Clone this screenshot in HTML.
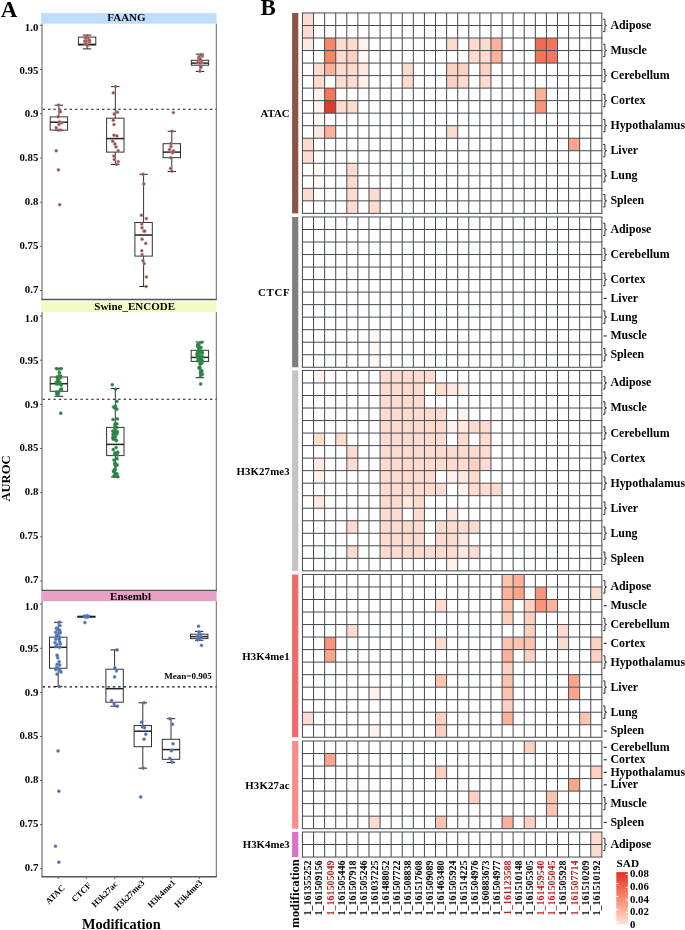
<!DOCTYPE html>
<html><head><meta charset="utf-8"><style>
html,body{margin:0;padding:0;background:#fff;}
svg{display:block;will-change:transform;}
text{font-family:"Liberation Serif",serif;font-weight:bold;}
</style></head><body>
<svg width="685" height="930" viewBox="0 0 685 930">
<rect width="685" height="930" fill="#fff"/>
<text x="0.8" y="16.9" font-family="Liberation Serif" font-weight="bold" font-size="23">A</text>
<rect x="41.2" y="12.9" width="175.4" height="10.8" fill="#bddffb"/>
<text x="107.3" y="20.7" font-family="Liberation Serif" font-weight="bold" font-size="11">FAANG</text>
<line x1="42.0" y1="23.7" x2="42.0" y2="299.6" stroke="#555" stroke-width="1.0"/>
<line x1="216.3" y1="23.7" x2="216.3" y2="299.6" stroke="#666" stroke-width="1.0"/>
<line x1="41.5" y1="299.6" x2="216.8" y2="299.6" stroke="#555" stroke-width="1.5"/>
<line x1="40" y1="25.3" x2="42.0" y2="25.3" stroke="#555" stroke-width="0.9"/>
<text x="38.3" y="30.8" font-family="Liberation Serif" font-weight="bold" font-size="10.8" text-anchor="end">1.0</text>
<line x1="40" y1="69.5" x2="42.0" y2="69.5" stroke="#555" stroke-width="0.9"/>
<text x="38.3" y="73.5" font-family="Liberation Serif" font-weight="bold" font-size="10.8" text-anchor="end">0.95</text>
<line x1="40" y1="113.7" x2="42.0" y2="113.7" stroke="#555" stroke-width="0.9"/>
<text x="38.3" y="116.9" font-family="Liberation Serif" font-weight="bold" font-size="10.8" text-anchor="end">0.9</text>
<line x1="40" y1="157.9" x2="42.0" y2="157.9" stroke="#555" stroke-width="0.9"/>
<text x="38.3" y="160.6" font-family="Liberation Serif" font-weight="bold" font-size="10.8" text-anchor="end">0.85</text>
<line x1="40" y1="202.2" x2="42.0" y2="202.2" stroke="#555" stroke-width="0.9"/>
<text x="38.3" y="204.7" font-family="Liberation Serif" font-weight="bold" font-size="10.8" text-anchor="end">0.8</text>
<line x1="40" y1="246.4" x2="42.0" y2="246.4" stroke="#555" stroke-width="0.9"/>
<text x="38.3" y="248.7" font-family="Liberation Serif" font-weight="bold" font-size="10.8" text-anchor="end">0.75</text>
<line x1="40" y1="290.6" x2="42.0" y2="290.6" stroke="#555" stroke-width="0.9"/>
<text x="38.3" y="292.6" font-family="Liberation Serif" font-weight="bold" font-size="10.8" text-anchor="end">0.7</text>
<line x1="42.6" y1="109.3" x2="216.3" y2="109.3" stroke="#111" stroke-width="1.1" stroke-dasharray="2.4,3.0"/>
<rect x="41.2" y="301.3" width="175.4" height="10.9" fill="#f4fac6"/>
<text x="94.3" y="309.8" font-family="Liberation Serif" font-weight="bold" font-size="11">Swine_ENCODE</text>
<line x1="42.0" y1="312.2" x2="42.0" y2="590.4" stroke="#555" stroke-width="1.0"/>
<line x1="216.3" y1="312.2" x2="216.3" y2="590.4" stroke="#666" stroke-width="1.0"/>
<line x1="41.5" y1="590.4" x2="216.8" y2="590.4" stroke="#555" stroke-width="1.5"/>
<line x1="40" y1="316.0" x2="42.0" y2="316.0" stroke="#555" stroke-width="0.9"/>
<text x="38.3" y="321.5" font-family="Liberation Serif" font-weight="bold" font-size="10.8" text-anchor="end">1.0</text>
<line x1="40" y1="360.2" x2="42.0" y2="360.2" stroke="#555" stroke-width="0.9"/>
<text x="38.3" y="364.2" font-family="Liberation Serif" font-weight="bold" font-size="10.8" text-anchor="end">0.95</text>
<line x1="40" y1="404.3" x2="42.0" y2="404.3" stroke="#555" stroke-width="0.9"/>
<text x="38.3" y="407.5" font-family="Liberation Serif" font-weight="bold" font-size="10.8" text-anchor="end">0.9</text>
<line x1="40" y1="448.5" x2="42.0" y2="448.5" stroke="#555" stroke-width="0.9"/>
<text x="38.3" y="451.2" font-family="Liberation Serif" font-weight="bold" font-size="10.8" text-anchor="end">0.85</text>
<line x1="40" y1="492.7" x2="42.0" y2="492.7" stroke="#555" stroke-width="0.9"/>
<text x="38.3" y="495.2" font-family="Liberation Serif" font-weight="bold" font-size="10.8" text-anchor="end">0.8</text>
<line x1="40" y1="536.8" x2="42.0" y2="536.8" stroke="#555" stroke-width="0.9"/>
<text x="38.3" y="539.1" font-family="Liberation Serif" font-weight="bold" font-size="10.8" text-anchor="end">0.75</text>
<line x1="40" y1="581.0" x2="42.0" y2="581.0" stroke="#555" stroke-width="0.9"/>
<text x="38.3" y="583.0" font-family="Liberation Serif" font-weight="bold" font-size="10.8" text-anchor="end">0.7</text>
<line x1="42.6" y1="399.3" x2="216.3" y2="399.3" stroke="#111" stroke-width="1.1" stroke-dasharray="2.4,3.0"/>
<rect x="41.2" y="591.1" width="175.4" height="10.1" fill="#e6a1c5"/>
<text x="110.1" y="600.4" font-family="Liberation Serif" font-weight="bold" font-size="11">Ensembl</text>
<line x1="42.0" y1="601.2" x2="42.0" y2="876.8" stroke="#555" stroke-width="1.0"/>
<line x1="216.3" y1="601.2" x2="216.3" y2="876.8" stroke="#666" stroke-width="1.0"/>
<line x1="41.5" y1="876.8" x2="216.8" y2="876.8" stroke="#555" stroke-width="1.5"/>
<line x1="40" y1="604.2" x2="42.0" y2="604.2" stroke="#555" stroke-width="0.9"/>
<text x="38.3" y="609.7" font-family="Liberation Serif" font-weight="bold" font-size="10.8" text-anchor="end">1.0</text>
<line x1="40" y1="648.3" x2="42.0" y2="648.3" stroke="#555" stroke-width="0.9"/>
<text x="38.3" y="652.3" font-family="Liberation Serif" font-weight="bold" font-size="10.8" text-anchor="end">0.95</text>
<line x1="40" y1="692.4" x2="42.0" y2="692.4" stroke="#555" stroke-width="0.9"/>
<text x="38.3" y="695.6" font-family="Liberation Serif" font-weight="bold" font-size="10.8" text-anchor="end">0.9</text>
<line x1="40" y1="736.5" x2="42.0" y2="736.5" stroke="#555" stroke-width="0.9"/>
<text x="38.3" y="739.2" font-family="Liberation Serif" font-weight="bold" font-size="10.8" text-anchor="end">0.85</text>
<line x1="40" y1="780.5" x2="42.0" y2="780.5" stroke="#555" stroke-width="0.9"/>
<text x="38.3" y="783.0" font-family="Liberation Serif" font-weight="bold" font-size="10.8" text-anchor="end">0.8</text>
<line x1="40" y1="824.6" x2="42.0" y2="824.6" stroke="#555" stroke-width="0.9"/>
<text x="38.3" y="826.9" font-family="Liberation Serif" font-weight="bold" font-size="10.8" text-anchor="end">0.75</text>
<line x1="40" y1="868.7" x2="42.0" y2="868.7" stroke="#555" stroke-width="0.9"/>
<text x="38.3" y="870.7" font-family="Liberation Serif" font-weight="bold" font-size="10.8" text-anchor="end">0.7</text>
<line x1="42.6" y1="686.9" x2="216.3" y2="686.9" stroke="#111" stroke-width="1.1" stroke-dasharray="2.4,3.0"/>
<line x1="58.9" y1="105.2" x2="58.9" y2="116.9" stroke="#333" stroke-width="1"/>
<line x1="58.9" y1="130.1" x2="58.9" y2="130.1" stroke="#333" stroke-width="1"/>
<line x1="54.7" y1="105.2" x2="63.1" y2="105.2" stroke="#222" stroke-width="1"/>
<line x1="54.7" y1="130.1" x2="63.1" y2="130.1" stroke="#222" stroke-width="1"/>
<rect x="50.2" y="116.9" width="17.4" height="13.2" fill="none" stroke="#333" stroke-width="1"/>
<line x1="50.2" y1="122.2" x2="67.6" y2="122.2" stroke="#222" stroke-width="1.5"/>
<line x1="87.1" y1="35.1" x2="87.1" y2="37.1" stroke="#333" stroke-width="1"/>
<line x1="87.1" y1="45.0" x2="87.1" y2="48.9" stroke="#333" stroke-width="1"/>
<line x1="82.9" y1="35.1" x2="91.3" y2="35.1" stroke="#222" stroke-width="1"/>
<line x1="82.9" y1="48.9" x2="91.3" y2="48.9" stroke="#222" stroke-width="1"/>
<rect x="78.4" y="37.1" width="17.4" height="7.9" fill="none" stroke="#333" stroke-width="1"/>
<line x1="78.4" y1="44.4" x2="95.8" y2="44.4" stroke="#222" stroke-width="1.5"/>
<line x1="115.3" y1="86.6" x2="115.3" y2="118.2" stroke="#333" stroke-width="1"/>
<line x1="115.3" y1="152.1" x2="115.3" y2="164.5" stroke="#333" stroke-width="1"/>
<line x1="111.1" y1="86.6" x2="119.5" y2="86.6" stroke="#222" stroke-width="1"/>
<line x1="111.1" y1="164.5" x2="119.5" y2="164.5" stroke="#222" stroke-width="1"/>
<rect x="106.6" y="118.2" width="17.4" height="33.9" fill="none" stroke="#333" stroke-width="1"/>
<line x1="106.6" y1="138.6" x2="124.0" y2="138.6" stroke="#222" stroke-width="1.5"/>
<line x1="143.6" y1="174.3" x2="143.6" y2="222.5" stroke="#333" stroke-width="1"/>
<line x1="143.6" y1="256.1" x2="143.6" y2="286.5" stroke="#333" stroke-width="1"/>
<line x1="139.4" y1="174.3" x2="147.8" y2="174.3" stroke="#222" stroke-width="1"/>
<line x1="139.4" y1="286.5" x2="147.8" y2="286.5" stroke="#222" stroke-width="1"/>
<rect x="134.9" y="222.5" width="17.4" height="33.6" fill="none" stroke="#333" stroke-width="1"/>
<line x1="134.9" y1="235.0" x2="152.3" y2="235.0" stroke="#222" stroke-width="1.5"/>
<line x1="171.8" y1="131.3" x2="171.8" y2="143.7" stroke="#333" stroke-width="1"/>
<line x1="171.8" y1="157.7" x2="171.8" y2="171.5" stroke="#333" stroke-width="1"/>
<line x1="167.6" y1="131.3" x2="176.0" y2="131.3" stroke="#222" stroke-width="1"/>
<line x1="167.6" y1="171.5" x2="176.0" y2="171.5" stroke="#222" stroke-width="1"/>
<rect x="163.1" y="143.7" width="17.4" height="14.0" fill="none" stroke="#333" stroke-width="1"/>
<line x1="163.1" y1="152.1" x2="180.5" y2="152.1" stroke="#222" stroke-width="1.5"/>
<line x1="200.0" y1="54.2" x2="200.0" y2="60.3" stroke="#333" stroke-width="1"/>
<line x1="200.0" y1="65.2" x2="200.0" y2="71.5" stroke="#333" stroke-width="1"/>
<line x1="195.8" y1="54.2" x2="204.2" y2="54.2" stroke="#222" stroke-width="1"/>
<line x1="195.8" y1="71.5" x2="204.2" y2="71.5" stroke="#222" stroke-width="1"/>
<rect x="191.3" y="60.3" width="17.4" height="4.9" fill="none" stroke="#333" stroke-width="1"/>
<line x1="191.3" y1="63.1" x2="208.7" y2="63.1" stroke="#222" stroke-width="1.5"/>
<line x1="58.9" y1="368.2" x2="58.9" y2="377.0" stroke="#333" stroke-width="1"/>
<line x1="58.9" y1="391.3" x2="58.9" y2="396.3" stroke="#333" stroke-width="1"/>
<line x1="54.7" y1="368.2" x2="63.1" y2="368.2" stroke="#222" stroke-width="1"/>
<line x1="54.7" y1="396.3" x2="63.1" y2="396.3" stroke="#222" stroke-width="1"/>
<rect x="50.2" y="377.0" width="17.4" height="14.3" fill="none" stroke="#333" stroke-width="1"/>
<line x1="50.2" y1="383.7" x2="67.6" y2="383.7" stroke="#222" stroke-width="1.5"/>
<line x1="115.3" y1="388.5" x2="115.3" y2="427.4" stroke="#333" stroke-width="1"/>
<line x1="115.3" y1="455.6" x2="115.3" y2="477.1" stroke="#333" stroke-width="1"/>
<line x1="111.1" y1="388.5" x2="119.5" y2="388.5" stroke="#222" stroke-width="1"/>
<line x1="111.1" y1="477.1" x2="119.5" y2="477.1" stroke="#222" stroke-width="1"/>
<rect x="106.6" y="427.4" width="17.4" height="28.2" fill="none" stroke="#333" stroke-width="1"/>
<line x1="106.6" y1="444.4" x2="124.0" y2="444.4" stroke="#222" stroke-width="1.5"/>
<line x1="199.9" y1="342.0" x2="199.9" y2="350.3" stroke="#333" stroke-width="1"/>
<line x1="199.9" y1="361.4" x2="199.9" y2="377.7" stroke="#333" stroke-width="1"/>
<line x1="195.7" y1="342.0" x2="204.1" y2="342.0" stroke="#222" stroke-width="1"/>
<line x1="195.7" y1="377.7" x2="204.1" y2="377.7" stroke="#222" stroke-width="1"/>
<rect x="191.2" y="350.3" width="17.4" height="11.1" fill="none" stroke="#333" stroke-width="1"/>
<line x1="191.2" y1="357.4" x2="208.6" y2="357.4" stroke="#222" stroke-width="1.5"/>
<line x1="58.2" y1="622.3" x2="58.2" y2="637.2" stroke="#333" stroke-width="1"/>
<line x1="58.2" y1="668.3" x2="58.2" y2="686.5" stroke="#333" stroke-width="1"/>
<line x1="54.0" y1="622.3" x2="62.4" y2="622.3" stroke="#222" stroke-width="1"/>
<line x1="54.0" y1="686.5" x2="62.4" y2="686.5" stroke="#222" stroke-width="1"/>
<rect x="49.5" y="637.2" width="17.4" height="31.1" fill="none" stroke="#333" stroke-width="1"/>
<line x1="49.5" y1="647.3" x2="66.9" y2="647.3" stroke="#222" stroke-width="1.5"/>
<line x1="86.4" y1="616.2" x2="86.4" y2="616.2" stroke="#333" stroke-width="1"/>
<line x1="86.4" y1="617.2" x2="86.4" y2="617.2" stroke="#333" stroke-width="1"/>
<line x1="82.2" y1="616.2" x2="90.6" y2="616.2" stroke="#222" stroke-width="1"/>
<line x1="82.2" y1="617.2" x2="90.6" y2="617.2" stroke="#222" stroke-width="1"/>
<rect x="77.7" y="616.2" width="17.4" height="1.0" fill="none" stroke="#333" stroke-width="1"/>
<line x1="77.7" y1="616.7" x2="95.1" y2="616.7" stroke="#222" stroke-width="1.5"/>
<line x1="114.6" y1="649.9" x2="114.6" y2="669.2" stroke="#333" stroke-width="1"/>
<line x1="114.6" y1="702.2" x2="114.6" y2="706.2" stroke="#333" stroke-width="1"/>
<line x1="110.4" y1="649.9" x2="118.8" y2="649.9" stroke="#222" stroke-width="1"/>
<line x1="110.4" y1="706.2" x2="118.8" y2="706.2" stroke="#222" stroke-width="1"/>
<rect x="105.9" y="669.2" width="17.4" height="33.0" fill="none" stroke="#333" stroke-width="1"/>
<line x1="105.9" y1="688.7" x2="123.3" y2="688.7" stroke="#222" stroke-width="1.5"/>
<line x1="142.8" y1="702.8" x2="142.8" y2="725.5" stroke="#333" stroke-width="1"/>
<line x1="142.8" y1="746.7" x2="142.8" y2="768.2" stroke="#333" stroke-width="1"/>
<line x1="138.6" y1="702.8" x2="147.0" y2="702.8" stroke="#222" stroke-width="1"/>
<line x1="138.6" y1="768.2" x2="147.0" y2="768.2" stroke="#222" stroke-width="1"/>
<rect x="134.1" y="725.5" width="17.4" height="21.2" fill="none" stroke="#333" stroke-width="1"/>
<line x1="134.1" y1="731.2" x2="151.5" y2="731.2" stroke="#222" stroke-width="1.5"/>
<line x1="171.0" y1="718.7" x2="171.0" y2="739.3" stroke="#333" stroke-width="1"/>
<line x1="171.0" y1="759.3" x2="171.0" y2="762.5" stroke="#333" stroke-width="1"/>
<line x1="166.8" y1="718.7" x2="175.2" y2="718.7" stroke="#222" stroke-width="1"/>
<line x1="166.8" y1="762.5" x2="175.2" y2="762.5" stroke="#222" stroke-width="1"/>
<rect x="162.3" y="739.3" width="17.4" height="20.0" fill="none" stroke="#333" stroke-width="1"/>
<line x1="162.3" y1="749.6" x2="179.7" y2="749.6" stroke="#222" stroke-width="1.5"/>
<line x1="199.2" y1="631.4" x2="199.2" y2="634.2" stroke="#333" stroke-width="1"/>
<line x1="199.2" y1="638.6" x2="199.2" y2="640.3" stroke="#333" stroke-width="1"/>
<line x1="195.0" y1="631.4" x2="203.4" y2="631.4" stroke="#222" stroke-width="1"/>
<line x1="195.0" y1="640.3" x2="203.4" y2="640.3" stroke="#222" stroke-width="1"/>
<rect x="190.5" y="634.2" width="17.4" height="4.4" fill="none" stroke="#333" stroke-width="1"/>
<line x1="190.5" y1="636.6" x2="207.9" y2="636.6" stroke="#222" stroke-width="1.5"/>
<g><circle cx="58.4" cy="105.1" r="1.45" fill="#6f5252" stroke="#dd7f80" stroke-width="1.2" stroke-opacity="0.5"/>
<circle cx="59.7" cy="111.0" r="1.45" fill="#6f5252" stroke="#dd7f80" stroke-width="1.2" stroke-opacity="0.5"/>
<circle cx="60.4" cy="111.9" r="1.45" fill="#6f5252" stroke="#dd7f80" stroke-width="1.2" stroke-opacity="0.5"/>
<circle cx="58.1" cy="116.7" r="1.45" fill="#6f5252" stroke="#dd7f80" stroke-width="1.2" stroke-opacity="0.5"/>
<circle cx="59.4" cy="121.9" r="1.45" fill="#6f5252" stroke="#dd7f80" stroke-width="1.2" stroke-opacity="0.5"/>
<circle cx="61.7" cy="122.8" r="1.45" fill="#6f5252" stroke="#dd7f80" stroke-width="1.2" stroke-opacity="0.5"/>
<circle cx="56.2" cy="127.8" r="1.45" fill="#6f5252" stroke="#dd7f80" stroke-width="1.2" stroke-opacity="0.5"/>
<circle cx="58.1" cy="130.1" r="1.45" fill="#6f5252" stroke="#dd7f80" stroke-width="1.2" stroke-opacity="0.5"/>
<circle cx="60.4" cy="130.1" r="1.45" fill="#6f5252" stroke="#dd7f80" stroke-width="1.2" stroke-opacity="0.5"/>
<circle cx="59.0" cy="124.5" r="1.45" fill="#6f5252" stroke="#dd7f80" stroke-width="1.2" stroke-opacity="0.5"/>
<circle cx="56.2" cy="150.7" r="1.45" fill="#6f5252" stroke="#dd7f80" stroke-width="1.2" stroke-opacity="0.5"/>
<circle cx="58.4" cy="169.9" r="1.45" fill="#6f5252" stroke="#dd7f80" stroke-width="1.2" stroke-opacity="0.5"/>
<circle cx="59.7" cy="204.7" r="1.45" fill="#6f5252" stroke="#dd7f80" stroke-width="1.2" stroke-opacity="0.5"/>
<circle cx="87.9" cy="38.3" r="1.45" fill="#6f5252" stroke="#dd7f80" stroke-width="1.2" stroke-opacity="0.5"/>
<circle cx="86.4" cy="41.3" r="1.45" fill="#6f5252" stroke="#dd7f80" stroke-width="1.2" stroke-opacity="0.5"/>
<circle cx="84.7" cy="41.1" r="1.45" fill="#6f5252" stroke="#dd7f80" stroke-width="1.2" stroke-opacity="0.5"/>
<circle cx="85.0" cy="37.7" r="1.45" fill="#6f5252" stroke="#dd7f80" stroke-width="1.2" stroke-opacity="0.5"/>
<circle cx="85.2" cy="43.6" r="1.45" fill="#6f5252" stroke="#dd7f80" stroke-width="1.2" stroke-opacity="0.5"/>
<circle cx="89.4" cy="42.1" r="1.45" fill="#6f5252" stroke="#dd7f80" stroke-width="1.2" stroke-opacity="0.5"/>
<circle cx="89.6" cy="40.2" r="1.45" fill="#6f5252" stroke="#dd7f80" stroke-width="1.2" stroke-opacity="0.5"/>
<circle cx="86.0" cy="43.9" r="1.45" fill="#6f5252" stroke="#dd7f80" stroke-width="1.2" stroke-opacity="0.5"/>
<circle cx="86.1" cy="38.0" r="1.45" fill="#6f5252" stroke="#dd7f80" stroke-width="1.2" stroke-opacity="0.5"/>
<circle cx="87.5" cy="45.7" r="1.45" fill="#6f5252" stroke="#dd7f80" stroke-width="1.2" stroke-opacity="0.5"/>
<circle cx="87.4" cy="35.8" r="1.45" fill="#6f5252" stroke="#dd7f80" stroke-width="1.2" stroke-opacity="0.5"/>
<circle cx="85.6" cy="37.6" r="1.45" fill="#6f5252" stroke="#dd7f80" stroke-width="1.2" stroke-opacity="0.5"/>
<circle cx="115.5" cy="86.6" r="1.45" fill="#6f5252" stroke="#dd7f80" stroke-width="1.2" stroke-opacity="0.5"/>
<circle cx="113.3" cy="92.9" r="1.45" fill="#6f5252" stroke="#dd7f80" stroke-width="1.2" stroke-opacity="0.5"/>
<circle cx="114.2" cy="114.0" r="1.45" fill="#6f5252" stroke="#dd7f80" stroke-width="1.2" stroke-opacity="0.5"/>
<circle cx="117.5" cy="112.3" r="1.45" fill="#6f5252" stroke="#dd7f80" stroke-width="1.2" stroke-opacity="0.5"/>
<circle cx="113.3" cy="120.2" r="1.45" fill="#6f5252" stroke="#dd7f80" stroke-width="1.2" stroke-opacity="0.5"/>
<circle cx="114.0" cy="124.6" r="1.45" fill="#6f5252" stroke="#dd7f80" stroke-width="1.2" stroke-opacity="0.5"/>
<circle cx="114.0" cy="135.3" r="1.45" fill="#6f5252" stroke="#dd7f80" stroke-width="1.2" stroke-opacity="0.5"/>
<circle cx="116.9" cy="136.0" r="1.45" fill="#6f5252" stroke="#dd7f80" stroke-width="1.2" stroke-opacity="0.5"/>
<circle cx="112.7" cy="141.2" r="1.45" fill="#6f5252" stroke="#dd7f80" stroke-width="1.2" stroke-opacity="0.5"/>
<circle cx="114.9" cy="143.9" r="1.45" fill="#6f5252" stroke="#dd7f80" stroke-width="1.2" stroke-opacity="0.5"/>
<circle cx="116.0" cy="146.9" r="1.45" fill="#6f5252" stroke="#dd7f80" stroke-width="1.2" stroke-opacity="0.5"/>
<circle cx="118.2" cy="150.8" r="1.45" fill="#6f5252" stroke="#dd7f80" stroke-width="1.2" stroke-opacity="0.5"/>
<circle cx="113.8" cy="156.1" r="1.45" fill="#6f5252" stroke="#dd7f80" stroke-width="1.2" stroke-opacity="0.5"/>
<circle cx="114.2" cy="159.6" r="1.45" fill="#6f5252" stroke="#dd7f80" stroke-width="1.2" stroke-opacity="0.5"/>
<circle cx="118.2" cy="161.6" r="1.45" fill="#6f5252" stroke="#dd7f80" stroke-width="1.2" stroke-opacity="0.5"/>
<circle cx="116.6" cy="164.5" r="1.45" fill="#6f5252" stroke="#dd7f80" stroke-width="1.2" stroke-opacity="0.5"/>
<circle cx="142.9" cy="174.3" r="1.45" fill="#6f5252" stroke="#dd7f80" stroke-width="1.2" stroke-opacity="0.5"/>
<circle cx="143.8" cy="184.0" r="1.45" fill="#6f5252" stroke="#dd7f80" stroke-width="1.2" stroke-opacity="0.5"/>
<circle cx="141.4" cy="215.3" r="1.45" fill="#6f5252" stroke="#dd7f80" stroke-width="1.2" stroke-opacity="0.5"/>
<circle cx="146.4" cy="218.6" r="1.45" fill="#6f5252" stroke="#dd7f80" stroke-width="1.2" stroke-opacity="0.5"/>
<circle cx="141.8" cy="224.1" r="1.45" fill="#6f5252" stroke="#dd7f80" stroke-width="1.2" stroke-opacity="0.5"/>
<circle cx="142.0" cy="227.8" r="1.45" fill="#6f5252" stroke="#dd7f80" stroke-width="1.2" stroke-opacity="0.5"/>
<circle cx="143.9" cy="231.0" r="1.45" fill="#6f5252" stroke="#dd7f80" stroke-width="1.2" stroke-opacity="0.5"/>
<circle cx="144.7" cy="231.3" r="1.45" fill="#6f5252" stroke="#dd7f80" stroke-width="1.2" stroke-opacity="0.5"/>
<circle cx="142.1" cy="239.2" r="1.45" fill="#6f5252" stroke="#dd7f80" stroke-width="1.2" stroke-opacity="0.5"/>
<circle cx="145.7" cy="243.4" r="1.45" fill="#6f5252" stroke="#dd7f80" stroke-width="1.2" stroke-opacity="0.5"/>
<circle cx="141.8" cy="250.8" r="1.45" fill="#6f5252" stroke="#dd7f80" stroke-width="1.2" stroke-opacity="0.5"/>
<circle cx="142.1" cy="254.8" r="1.45" fill="#6f5252" stroke="#dd7f80" stroke-width="1.2" stroke-opacity="0.5"/>
<circle cx="142.9" cy="260.8" r="1.45" fill="#6f5252" stroke="#dd7f80" stroke-width="1.2" stroke-opacity="0.5"/>
<circle cx="144.2" cy="263.6" r="1.45" fill="#6f5252" stroke="#dd7f80" stroke-width="1.2" stroke-opacity="0.5"/>
<circle cx="146.4" cy="277.0" r="1.45" fill="#6f5252" stroke="#dd7f80" stroke-width="1.2" stroke-opacity="0.5"/>
<circle cx="146.1" cy="286.5" r="1.45" fill="#6f5252" stroke="#dd7f80" stroke-width="1.2" stroke-opacity="0.5"/>
<circle cx="173.4" cy="112.6" r="1.45" fill="#6f5252" stroke="#dd7f80" stroke-width="1.2" stroke-opacity="0.5"/>
<circle cx="171.9" cy="131.3" r="1.45" fill="#6f5252" stroke="#dd7f80" stroke-width="1.2" stroke-opacity="0.5"/>
<circle cx="170.9" cy="143.5" r="1.45" fill="#6f5252" stroke="#dd7f80" stroke-width="1.2" stroke-opacity="0.5"/>
<circle cx="169.5" cy="149.5" r="1.45" fill="#6f5252" stroke="#dd7f80" stroke-width="1.2" stroke-opacity="0.5"/>
<circle cx="171.5" cy="152.3" r="1.45" fill="#6f5252" stroke="#dd7f80" stroke-width="1.2" stroke-opacity="0.5"/>
<circle cx="172.8" cy="152.8" r="1.45" fill="#6f5252" stroke="#dd7f80" stroke-width="1.2" stroke-opacity="0.5"/>
<circle cx="170.8" cy="157.7" r="1.45" fill="#6f5252" stroke="#dd7f80" stroke-width="1.2" stroke-opacity="0.5"/>
<circle cx="170.5" cy="168.5" r="1.45" fill="#6f5252" stroke="#dd7f80" stroke-width="1.2" stroke-opacity="0.5"/>
<circle cx="171.9" cy="171.3" r="1.45" fill="#6f5252" stroke="#dd7f80" stroke-width="1.2" stroke-opacity="0.5"/>
<circle cx="171.0" cy="146.5" r="1.45" fill="#6f5252" stroke="#dd7f80" stroke-width="1.2" stroke-opacity="0.5"/>
<circle cx="173.5" cy="151.0" r="1.45" fill="#6f5252" stroke="#dd7f80" stroke-width="1.2" stroke-opacity="0.5"/>
<circle cx="199.0" cy="56.8" r="1.45" fill="#6f5252" stroke="#dd7f80" stroke-width="1.2" stroke-opacity="0.5"/>
<circle cx="199.0" cy="62.5" r="1.45" fill="#6f5252" stroke="#dd7f80" stroke-width="1.2" stroke-opacity="0.5"/>
<circle cx="198.7" cy="58.5" r="1.45" fill="#6f5252" stroke="#dd7f80" stroke-width="1.2" stroke-opacity="0.5"/>
<circle cx="202.0" cy="62.9" r="1.45" fill="#6f5252" stroke="#dd7f80" stroke-width="1.2" stroke-opacity="0.5"/>
<circle cx="202.5" cy="56.0" r="1.45" fill="#6f5252" stroke="#dd7f80" stroke-width="1.2" stroke-opacity="0.5"/>
<circle cx="201.3" cy="62.3" r="1.45" fill="#6f5252" stroke="#dd7f80" stroke-width="1.2" stroke-opacity="0.5"/>
<circle cx="197.6" cy="62.7" r="1.45" fill="#6f5252" stroke="#dd7f80" stroke-width="1.2" stroke-opacity="0.5"/>
<circle cx="200.4" cy="58.9" r="1.45" fill="#6f5252" stroke="#dd7f80" stroke-width="1.2" stroke-opacity="0.5"/>
<circle cx="201.0" cy="67.2" r="1.45" fill="#6f5252" stroke="#dd7f80" stroke-width="1.2" stroke-opacity="0.5"/>
<circle cx="199.8" cy="63.1" r="1.45" fill="#6f5252" stroke="#dd7f80" stroke-width="1.2" stroke-opacity="0.5"/>
<circle cx="199.9" cy="71.2" r="1.45" fill="#6f5252" stroke="#dd7f80" stroke-width="1.2" stroke-opacity="0.5"/>
<circle cx="201.0" cy="54.6" r="1.45" fill="#6f5252" stroke="#dd7f80" stroke-width="1.2" stroke-opacity="0.5"/>
<circle cx="60.6" cy="376.9" r="1.45" fill="#3d6a47" stroke="#22a24a" stroke-width="1.2" stroke-opacity="0.5"/>
<circle cx="59.8" cy="382.5" r="1.45" fill="#3d6a47" stroke="#22a24a" stroke-width="1.2" stroke-opacity="0.5"/>
<circle cx="57.2" cy="383.6" r="1.45" fill="#3d6a47" stroke="#22a24a" stroke-width="1.2" stroke-opacity="0.5"/>
<circle cx="60.3" cy="377.8" r="1.45" fill="#3d6a47" stroke="#22a24a" stroke-width="1.2" stroke-opacity="0.5"/>
<circle cx="58.3" cy="380.5" r="1.45" fill="#3d6a47" stroke="#22a24a" stroke-width="1.2" stroke-opacity="0.5"/>
<circle cx="58.6" cy="391.7" r="1.45" fill="#3d6a47" stroke="#22a24a" stroke-width="1.2" stroke-opacity="0.5"/>
<circle cx="60.6" cy="389.6" r="1.45" fill="#3d6a47" stroke="#22a24a" stroke-width="1.2" stroke-opacity="0.5"/>
<circle cx="58.5" cy="392.7" r="1.45" fill="#3d6a47" stroke="#22a24a" stroke-width="1.2" stroke-opacity="0.5"/>
<circle cx="61.3" cy="389.6" r="1.45" fill="#3d6a47" stroke="#22a24a" stroke-width="1.2" stroke-opacity="0.5"/>
<circle cx="57.5" cy="379.5" r="1.45" fill="#3d6a47" stroke="#22a24a" stroke-width="1.2" stroke-opacity="0.5"/>
<circle cx="59.4" cy="383.9" r="1.45" fill="#3d6a47" stroke="#22a24a" stroke-width="1.2" stroke-opacity="0.5"/>
<circle cx="58.5" cy="377.1" r="1.45" fill="#3d6a47" stroke="#22a24a" stroke-width="1.2" stroke-opacity="0.5"/>
<circle cx="61.3" cy="385.1" r="1.45" fill="#3d6a47" stroke="#22a24a" stroke-width="1.2" stroke-opacity="0.5"/>
<circle cx="59.5" cy="372.7" r="1.45" fill="#3d6a47" stroke="#22a24a" stroke-width="1.2" stroke-opacity="0.5"/>
<circle cx="61.0" cy="368.7" r="1.45" fill="#3d6a47" stroke="#22a24a" stroke-width="1.2" stroke-opacity="0.5"/>
<circle cx="60.4" cy="375.9" r="1.45" fill="#3d6a47" stroke="#22a24a" stroke-width="1.2" stroke-opacity="0.5"/>
<circle cx="56.8" cy="382.7" r="1.45" fill="#3d6a47" stroke="#22a24a" stroke-width="1.2" stroke-opacity="0.5"/>
<circle cx="56.7" cy="368.7" r="1.45" fill="#3d6a47" stroke="#22a24a" stroke-width="1.2" stroke-opacity="0.5"/>
<circle cx="58.1" cy="379.3" r="1.45" fill="#3d6a47" stroke="#22a24a" stroke-width="1.2" stroke-opacity="0.5"/>
<circle cx="57.1" cy="377.0" r="1.45" fill="#3d6a47" stroke="#22a24a" stroke-width="1.2" stroke-opacity="0.5"/>
<circle cx="56.4" cy="382.2" r="1.45" fill="#3d6a47" stroke="#22a24a" stroke-width="1.2" stroke-opacity="0.5"/>
<circle cx="57.1" cy="394.4" r="1.45" fill="#3d6a47" stroke="#22a24a" stroke-width="1.2" stroke-opacity="0.5"/>
<circle cx="58.2" cy="382.0" r="1.45" fill="#3d6a47" stroke="#22a24a" stroke-width="1.2" stroke-opacity="0.5"/>
<circle cx="61.5" cy="389.1" r="1.45" fill="#3d6a47" stroke="#22a24a" stroke-width="1.2" stroke-opacity="0.5"/>
<circle cx="56.7" cy="383.9" r="1.45" fill="#3d6a47" stroke="#22a24a" stroke-width="1.2" stroke-opacity="0.5"/>
<circle cx="57.7" cy="381.9" r="1.45" fill="#3d6a47" stroke="#22a24a" stroke-width="1.2" stroke-opacity="0.5"/>
<circle cx="56.4" cy="392.1" r="1.45" fill="#3d6a47" stroke="#22a24a" stroke-width="1.2" stroke-opacity="0.5"/>
<circle cx="57.1" cy="393.9" r="1.45" fill="#3d6a47" stroke="#22a24a" stroke-width="1.2" stroke-opacity="0.5"/>
<circle cx="60.7" cy="413.3" r="1.45" fill="#3d6a47" stroke="#22a24a" stroke-width="1.2" stroke-opacity="0.5"/>
<circle cx="115.4" cy="428.2" r="1.45" fill="#3d6a47" stroke="#22a24a" stroke-width="1.2" stroke-opacity="0.5"/>
<circle cx="116.3" cy="474.2" r="1.45" fill="#3d6a47" stroke="#22a24a" stroke-width="1.2" stroke-opacity="0.5"/>
<circle cx="113.6" cy="437.7" r="1.45" fill="#3d6a47" stroke="#22a24a" stroke-width="1.2" stroke-opacity="0.5"/>
<circle cx="116.8" cy="409.2" r="1.45" fill="#3d6a47" stroke="#22a24a" stroke-width="1.2" stroke-opacity="0.5"/>
<circle cx="116.9" cy="433.7" r="1.45" fill="#3d6a47" stroke="#22a24a" stroke-width="1.2" stroke-opacity="0.5"/>
<circle cx="116.9" cy="473.9" r="1.45" fill="#3d6a47" stroke="#22a24a" stroke-width="1.2" stroke-opacity="0.5"/>
<circle cx="113.9" cy="471.5" r="1.45" fill="#3d6a47" stroke="#22a24a" stroke-width="1.2" stroke-opacity="0.5"/>
<circle cx="112.9" cy="437.4" r="1.45" fill="#3d6a47" stroke="#22a24a" stroke-width="1.2" stroke-opacity="0.5"/>
<circle cx="114.0" cy="435.3" r="1.45" fill="#3d6a47" stroke="#22a24a" stroke-width="1.2" stroke-opacity="0.5"/>
<circle cx="115.0" cy="425.7" r="1.45" fill="#3d6a47" stroke="#22a24a" stroke-width="1.2" stroke-opacity="0.5"/>
<circle cx="117.7" cy="476.8" r="1.45" fill="#3d6a47" stroke="#22a24a" stroke-width="1.2" stroke-opacity="0.5"/>
<circle cx="113.9" cy="433.6" r="1.45" fill="#3d6a47" stroke="#22a24a" stroke-width="1.2" stroke-opacity="0.5"/>
<circle cx="115.9" cy="433.2" r="1.45" fill="#3d6a47" stroke="#22a24a" stroke-width="1.2" stroke-opacity="0.5"/>
<circle cx="115.2" cy="473.7" r="1.45" fill="#3d6a47" stroke="#22a24a" stroke-width="1.2" stroke-opacity="0.5"/>
<circle cx="113.1" cy="419.6" r="1.45" fill="#3d6a47" stroke="#22a24a" stroke-width="1.2" stroke-opacity="0.5"/>
<circle cx="116.8" cy="423.9" r="1.45" fill="#3d6a47" stroke="#22a24a" stroke-width="1.2" stroke-opacity="0.5"/>
<circle cx="113.6" cy="407.1" r="1.45" fill="#3d6a47" stroke="#22a24a" stroke-width="1.2" stroke-opacity="0.5"/>
<circle cx="116.9" cy="401.4" r="1.45" fill="#3d6a47" stroke="#22a24a" stroke-width="1.2" stroke-opacity="0.5"/>
<circle cx="114.8" cy="464.1" r="1.45" fill="#3d6a47" stroke="#22a24a" stroke-width="1.2" stroke-opacity="0.5"/>
<circle cx="113.6" cy="471.2" r="1.45" fill="#3d6a47" stroke="#22a24a" stroke-width="1.2" stroke-opacity="0.5"/>
<circle cx="117.4" cy="431.7" r="1.45" fill="#3d6a47" stroke="#22a24a" stroke-width="1.2" stroke-opacity="0.5"/>
<circle cx="117.0" cy="458.7" r="1.45" fill="#3d6a47" stroke="#22a24a" stroke-width="1.2" stroke-opacity="0.5"/>
<circle cx="114.5" cy="469.7" r="1.45" fill="#3d6a47" stroke="#22a24a" stroke-width="1.2" stroke-opacity="0.5"/>
<circle cx="112.8" cy="431.1" r="1.45" fill="#3d6a47" stroke="#22a24a" stroke-width="1.2" stroke-opacity="0.5"/>
<circle cx="115.4" cy="469.6" r="1.45" fill="#3d6a47" stroke="#22a24a" stroke-width="1.2" stroke-opacity="0.5"/>
<circle cx="117.2" cy="464.9" r="1.45" fill="#3d6a47" stroke="#22a24a" stroke-width="1.2" stroke-opacity="0.5"/>
<circle cx="114.0" cy="460.1" r="1.45" fill="#3d6a47" stroke="#22a24a" stroke-width="1.2" stroke-opacity="0.5"/>
<circle cx="115.7" cy="434.2" r="1.45" fill="#3d6a47" stroke="#22a24a" stroke-width="1.2" stroke-opacity="0.5"/>
<circle cx="113.4" cy="439.2" r="1.45" fill="#3d6a47" stroke="#22a24a" stroke-width="1.2" stroke-opacity="0.5"/>
<circle cx="115.1" cy="463.2" r="1.45" fill="#3d6a47" stroke="#22a24a" stroke-width="1.2" stroke-opacity="0.5"/>
<circle cx="114.9" cy="452.9" r="1.45" fill="#3d6a47" stroke="#22a24a" stroke-width="1.2" stroke-opacity="0.5"/>
<circle cx="115.5" cy="466.4" r="1.45" fill="#3d6a47" stroke="#22a24a" stroke-width="1.2" stroke-opacity="0.5"/>
<circle cx="115.0" cy="427.9" r="1.45" fill="#3d6a47" stroke="#22a24a" stroke-width="1.2" stroke-opacity="0.5"/>
<circle cx="116.9" cy="427.5" r="1.45" fill="#3d6a47" stroke="#22a24a" stroke-width="1.2" stroke-opacity="0.5"/>
<circle cx="116.5" cy="440.8" r="1.45" fill="#3d6a47" stroke="#22a24a" stroke-width="1.2" stroke-opacity="0.5"/>
<circle cx="115.4" cy="436.6" r="1.45" fill="#3d6a47" stroke="#22a24a" stroke-width="1.2" stroke-opacity="0.5"/>
<circle cx="113.3" cy="449.5" r="1.45" fill="#3d6a47" stroke="#22a24a" stroke-width="1.2" stroke-opacity="0.5"/>
<circle cx="114.1" cy="434.4" r="1.45" fill="#3d6a47" stroke="#22a24a" stroke-width="1.2" stroke-opacity="0.5"/>
<circle cx="115.6" cy="408.3" r="1.45" fill="#3d6a47" stroke="#22a24a" stroke-width="1.2" stroke-opacity="0.5"/>
<circle cx="115.0" cy="424.0" r="1.45" fill="#3d6a47" stroke="#22a24a" stroke-width="1.2" stroke-opacity="0.5"/>
<circle cx="115.4" cy="408.2" r="1.45" fill="#3d6a47" stroke="#22a24a" stroke-width="1.2" stroke-opacity="0.5"/>
<circle cx="115.5" cy="406.1" r="1.45" fill="#3d6a47" stroke="#22a24a" stroke-width="1.2" stroke-opacity="0.5"/>
<circle cx="116.3" cy="454.0" r="1.45" fill="#3d6a47" stroke="#22a24a" stroke-width="1.2" stroke-opacity="0.5"/>
<circle cx="114.0" cy="475.9" r="1.45" fill="#3d6a47" stroke="#22a24a" stroke-width="1.2" stroke-opacity="0.5"/>
<circle cx="117.1" cy="454.0" r="1.45" fill="#3d6a47" stroke="#22a24a" stroke-width="1.2" stroke-opacity="0.5"/>
<circle cx="115.0" cy="430.8" r="1.45" fill="#3d6a47" stroke="#22a24a" stroke-width="1.2" stroke-opacity="0.5"/>
<circle cx="113.1" cy="434.2" r="1.45" fill="#3d6a47" stroke="#22a24a" stroke-width="1.2" stroke-opacity="0.5"/>
<circle cx="117.4" cy="419.0" r="1.45" fill="#3d6a47" stroke="#22a24a" stroke-width="1.2" stroke-opacity="0.5"/>
<circle cx="116.1" cy="447.6" r="1.45" fill="#3d6a47" stroke="#22a24a" stroke-width="1.2" stroke-opacity="0.5"/>
<circle cx="117.7" cy="452.3" r="1.45" fill="#3d6a47" stroke="#22a24a" stroke-width="1.2" stroke-opacity="0.5"/>
<circle cx="114.8" cy="454.3" r="1.45" fill="#3d6a47" stroke="#22a24a" stroke-width="1.2" stroke-opacity="0.5"/>
<circle cx="117.0" cy="455.3" r="1.45" fill="#3d6a47" stroke="#22a24a" stroke-width="1.2" stroke-opacity="0.5"/>
<circle cx="115.4" cy="439.6" r="1.45" fill="#3d6a47" stroke="#22a24a" stroke-width="1.2" stroke-opacity="0.5"/>
<circle cx="114.4" cy="432.9" r="1.45" fill="#3d6a47" stroke="#22a24a" stroke-width="1.2" stroke-opacity="0.5"/>
<circle cx="115.6" cy="389.3" r="1.45" fill="#3d6a47" stroke="#22a24a" stroke-width="1.2" stroke-opacity="0.5"/>
<circle cx="112.3" cy="384.7" r="1.45" fill="#3d6a47" stroke="#22a24a" stroke-width="1.2" stroke-opacity="0.5"/>
<circle cx="199.0" cy="350.5" r="1.45" fill="#3d6a47" stroke="#22a24a" stroke-width="1.2" stroke-opacity="0.5"/>
<circle cx="197.6" cy="346.3" r="1.45" fill="#3d6a47" stroke="#22a24a" stroke-width="1.2" stroke-opacity="0.5"/>
<circle cx="202.4" cy="374.3" r="1.45" fill="#3d6a47" stroke="#22a24a" stroke-width="1.2" stroke-opacity="0.5"/>
<circle cx="197.5" cy="353.2" r="1.45" fill="#3d6a47" stroke="#22a24a" stroke-width="1.2" stroke-opacity="0.5"/>
<circle cx="198.0" cy="344.2" r="1.45" fill="#3d6a47" stroke="#22a24a" stroke-width="1.2" stroke-opacity="0.5"/>
<circle cx="201.6" cy="360.4" r="1.45" fill="#3d6a47" stroke="#22a24a" stroke-width="1.2" stroke-opacity="0.5"/>
<circle cx="202.1" cy="352.0" r="1.45" fill="#3d6a47" stroke="#22a24a" stroke-width="1.2" stroke-opacity="0.5"/>
<circle cx="197.8" cy="358.1" r="1.45" fill="#3d6a47" stroke="#22a24a" stroke-width="1.2" stroke-opacity="0.5"/>
<circle cx="199.5" cy="357.9" r="1.45" fill="#3d6a47" stroke="#22a24a" stroke-width="1.2" stroke-opacity="0.5"/>
<circle cx="200.6" cy="360.7" r="1.45" fill="#3d6a47" stroke="#22a24a" stroke-width="1.2" stroke-opacity="0.5"/>
<circle cx="201.8" cy="362.8" r="1.45" fill="#3d6a47" stroke="#22a24a" stroke-width="1.2" stroke-opacity="0.5"/>
<circle cx="199.7" cy="359.9" r="1.45" fill="#3d6a47" stroke="#22a24a" stroke-width="1.2" stroke-opacity="0.5"/>
<circle cx="202.1" cy="356.4" r="1.45" fill="#3d6a47" stroke="#22a24a" stroke-width="1.2" stroke-opacity="0.5"/>
<circle cx="200.0" cy="351.7" r="1.45" fill="#3d6a47" stroke="#22a24a" stroke-width="1.2" stroke-opacity="0.5"/>
<circle cx="198.1" cy="351.5" r="1.45" fill="#3d6a47" stroke="#22a24a" stroke-width="1.2" stroke-opacity="0.5"/>
<circle cx="198.9" cy="352.5" r="1.45" fill="#3d6a47" stroke="#22a24a" stroke-width="1.2" stroke-opacity="0.5"/>
<circle cx="198.8" cy="358.7" r="1.45" fill="#3d6a47" stroke="#22a24a" stroke-width="1.2" stroke-opacity="0.5"/>
<circle cx="199.1" cy="352.3" r="1.45" fill="#3d6a47" stroke="#22a24a" stroke-width="1.2" stroke-opacity="0.5"/>
<circle cx="197.4" cy="353.1" r="1.45" fill="#3d6a47" stroke="#22a24a" stroke-width="1.2" stroke-opacity="0.5"/>
<circle cx="198.3" cy="346.6" r="1.45" fill="#3d6a47" stroke="#22a24a" stroke-width="1.2" stroke-opacity="0.5"/>
<circle cx="197.9" cy="360.7" r="1.45" fill="#3d6a47" stroke="#22a24a" stroke-width="1.2" stroke-opacity="0.5"/>
<circle cx="199.9" cy="368.4" r="1.45" fill="#3d6a47" stroke="#22a24a" stroke-width="1.2" stroke-opacity="0.5"/>
<circle cx="199.9" cy="367.8" r="1.45" fill="#3d6a47" stroke="#22a24a" stroke-width="1.2" stroke-opacity="0.5"/>
<circle cx="199.1" cy="350.2" r="1.45" fill="#3d6a47" stroke="#22a24a" stroke-width="1.2" stroke-opacity="0.5"/>
<circle cx="200.6" cy="372.9" r="1.45" fill="#3d6a47" stroke="#22a24a" stroke-width="1.2" stroke-opacity="0.5"/>
<circle cx="197.6" cy="354.2" r="1.45" fill="#3d6a47" stroke="#22a24a" stroke-width="1.2" stroke-opacity="0.5"/>
<circle cx="201.2" cy="351.1" r="1.45" fill="#3d6a47" stroke="#22a24a" stroke-width="1.2" stroke-opacity="0.5"/>
<circle cx="197.7" cy="352.1" r="1.45" fill="#3d6a47" stroke="#22a24a" stroke-width="1.2" stroke-opacity="0.5"/>
<circle cx="200.8" cy="375.6" r="1.45" fill="#3d6a47" stroke="#22a24a" stroke-width="1.2" stroke-opacity="0.5"/>
<circle cx="198.8" cy="353.0" r="1.45" fill="#3d6a47" stroke="#22a24a" stroke-width="1.2" stroke-opacity="0.5"/>
<circle cx="199.6" cy="352.0" r="1.45" fill="#3d6a47" stroke="#22a24a" stroke-width="1.2" stroke-opacity="0.5"/>
<circle cx="202.4" cy="361.0" r="1.45" fill="#3d6a47" stroke="#22a24a" stroke-width="1.2" stroke-opacity="0.5"/>
<circle cx="202.3" cy="353.0" r="1.45" fill="#3d6a47" stroke="#22a24a" stroke-width="1.2" stroke-opacity="0.5"/>
<circle cx="197.3" cy="354.3" r="1.45" fill="#3d6a47" stroke="#22a24a" stroke-width="1.2" stroke-opacity="0.5"/>
<circle cx="199.9" cy="355.6" r="1.45" fill="#3d6a47" stroke="#22a24a" stroke-width="1.2" stroke-opacity="0.5"/>
<circle cx="197.3" cy="355.9" r="1.45" fill="#3d6a47" stroke="#22a24a" stroke-width="1.2" stroke-opacity="0.5"/>
<circle cx="199.4" cy="351.3" r="1.45" fill="#3d6a47" stroke="#22a24a" stroke-width="1.2" stroke-opacity="0.5"/>
<circle cx="198.9" cy="350.5" r="1.45" fill="#3d6a47" stroke="#22a24a" stroke-width="1.2" stroke-opacity="0.5"/>
<circle cx="200.1" cy="356.8" r="1.45" fill="#3d6a47" stroke="#22a24a" stroke-width="1.2" stroke-opacity="0.5"/>
<circle cx="201.0" cy="347.5" r="1.45" fill="#3d6a47" stroke="#22a24a" stroke-width="1.2" stroke-opacity="0.5"/>
<circle cx="199.0" cy="367.7" r="1.45" fill="#3d6a47" stroke="#22a24a" stroke-width="1.2" stroke-opacity="0.5"/>
<circle cx="201.1" cy="363.8" r="1.45" fill="#3d6a47" stroke="#22a24a" stroke-width="1.2" stroke-opacity="0.5"/>
<circle cx="201.6" cy="342.4" r="1.45" fill="#3d6a47" stroke="#22a24a" stroke-width="1.2" stroke-opacity="0.5"/>
<circle cx="201.1" cy="371.6" r="1.45" fill="#3d6a47" stroke="#22a24a" stroke-width="1.2" stroke-opacity="0.5"/>
<circle cx="200.0" cy="363.7" r="1.45" fill="#3d6a47" stroke="#22a24a" stroke-width="1.2" stroke-opacity="0.5"/>
<circle cx="201.5" cy="359.6" r="1.45" fill="#3d6a47" stroke="#22a24a" stroke-width="1.2" stroke-opacity="0.5"/>
<circle cx="201.9" cy="370.9" r="1.45" fill="#3d6a47" stroke="#22a24a" stroke-width="1.2" stroke-opacity="0.5"/>
<circle cx="198.5" cy="347.8" r="1.45" fill="#3d6a47" stroke="#22a24a" stroke-width="1.2" stroke-opacity="0.5"/>
<circle cx="199.2" cy="351.8" r="1.45" fill="#3d6a47" stroke="#22a24a" stroke-width="1.2" stroke-opacity="0.5"/>
<circle cx="200.2" cy="359.6" r="1.45" fill="#3d6a47" stroke="#22a24a" stroke-width="1.2" stroke-opacity="0.5"/>
<circle cx="200.6" cy="384.0" r="1.45" fill="#3d6a47" stroke="#22a24a" stroke-width="1.2" stroke-opacity="0.5"/>
<circle cx="59.4" cy="622.3" r="1.45" fill="#55678c" stroke="#5a8ee0" stroke-width="1.2" stroke-opacity="0.5"/>
<circle cx="60.0" cy="625.6" r="1.45" fill="#55678c" stroke="#5a8ee0" stroke-width="1.2" stroke-opacity="0.5"/>
<circle cx="56.4" cy="628.2" r="1.45" fill="#55678c" stroke="#5a8ee0" stroke-width="1.2" stroke-opacity="0.5"/>
<circle cx="57.7" cy="629.6" r="1.45" fill="#55678c" stroke="#5a8ee0" stroke-width="1.2" stroke-opacity="0.5"/>
<circle cx="59.7" cy="630.2" r="1.45" fill="#55678c" stroke="#5a8ee0" stroke-width="1.2" stroke-opacity="0.5"/>
<circle cx="55.8" cy="632.2" r="1.45" fill="#55678c" stroke="#5a8ee0" stroke-width="1.2" stroke-opacity="0.5"/>
<circle cx="60.4" cy="632.8" r="1.45" fill="#55678c" stroke="#5a8ee0" stroke-width="1.2" stroke-opacity="0.5"/>
<circle cx="58.4" cy="634.8" r="1.45" fill="#55678c" stroke="#5a8ee0" stroke-width="1.2" stroke-opacity="0.5"/>
<circle cx="56.4" cy="635.5" r="1.45" fill="#55678c" stroke="#5a8ee0" stroke-width="1.2" stroke-opacity="0.5"/>
<circle cx="57.1" cy="636.8" r="1.45" fill="#55678c" stroke="#5a8ee0" stroke-width="1.2" stroke-opacity="0.5"/>
<circle cx="59.7" cy="637.4" r="1.45" fill="#55678c" stroke="#5a8ee0" stroke-width="1.2" stroke-opacity="0.5"/>
<circle cx="55.8" cy="639.4" r="1.45" fill="#55678c" stroke="#5a8ee0" stroke-width="1.2" stroke-opacity="0.5"/>
<circle cx="59.1" cy="639.4" r="1.45" fill="#55678c" stroke="#5a8ee0" stroke-width="1.2" stroke-opacity="0.5"/>
<circle cx="55.1" cy="642.7" r="1.45" fill="#55678c" stroke="#5a8ee0" stroke-width="1.2" stroke-opacity="0.5"/>
<circle cx="59.7" cy="642.0" r="1.45" fill="#55678c" stroke="#5a8ee0" stroke-width="1.2" stroke-opacity="0.5"/>
<circle cx="57.1" cy="644.7" r="1.45" fill="#55678c" stroke="#5a8ee0" stroke-width="1.2" stroke-opacity="0.5"/>
<circle cx="60.4" cy="644.0" r="1.45" fill="#55678c" stroke="#5a8ee0" stroke-width="1.2" stroke-opacity="0.5"/>
<circle cx="55.8" cy="646.6" r="1.45" fill="#55678c" stroke="#5a8ee0" stroke-width="1.2" stroke-opacity="0.5"/>
<circle cx="59.7" cy="647.3" r="1.45" fill="#55678c" stroke="#5a8ee0" stroke-width="1.2" stroke-opacity="0.5"/>
<circle cx="57.1" cy="655.2" r="1.45" fill="#55678c" stroke="#5a8ee0" stroke-width="1.2" stroke-opacity="0.5"/>
<circle cx="57.7" cy="657.8" r="1.45" fill="#55678c" stroke="#5a8ee0" stroke-width="1.2" stroke-opacity="0.5"/>
<circle cx="59.1" cy="661.8" r="1.45" fill="#55678c" stroke="#5a8ee0" stroke-width="1.2" stroke-opacity="0.5"/>
<circle cx="57.1" cy="664.4" r="1.45" fill="#55678c" stroke="#5a8ee0" stroke-width="1.2" stroke-opacity="0.5"/>
<circle cx="59.7" cy="665.0" r="1.45" fill="#55678c" stroke="#5a8ee0" stroke-width="1.2" stroke-opacity="0.5"/>
<circle cx="56.4" cy="667.7" r="1.45" fill="#55678c" stroke="#5a8ee0" stroke-width="1.2" stroke-opacity="0.5"/>
<circle cx="58.4" cy="668.3" r="1.45" fill="#55678c" stroke="#5a8ee0" stroke-width="1.2" stroke-opacity="0.5"/>
<circle cx="55.8" cy="669.6" r="1.45" fill="#55678c" stroke="#5a8ee0" stroke-width="1.2" stroke-opacity="0.5"/>
<circle cx="59.7" cy="670.3" r="1.45" fill="#55678c" stroke="#5a8ee0" stroke-width="1.2" stroke-opacity="0.5"/>
<circle cx="61.0" cy="672.0" r="1.45" fill="#55678c" stroke="#5a8ee0" stroke-width="1.2" stroke-opacity="0.5"/>
<circle cx="57.1" cy="674.2" r="1.45" fill="#55678c" stroke="#5a8ee0" stroke-width="1.2" stroke-opacity="0.5"/>
<circle cx="59.1" cy="686.5" r="1.45" fill="#55678c" stroke="#5a8ee0" stroke-width="1.2" stroke-opacity="0.5"/>
<circle cx="58.1" cy="751.0" r="1.45" fill="#55678c" stroke="#5a8ee0" stroke-width="1.2" stroke-opacity="0.5"/>
<circle cx="58.9" cy="791.2" r="1.45" fill="#55678c" stroke="#5a8ee0" stroke-width="1.2" stroke-opacity="0.5"/>
<circle cx="55.5" cy="846.2" r="1.45" fill="#55678c" stroke="#5a8ee0" stroke-width="1.2" stroke-opacity="0.5"/>
<circle cx="58.9" cy="862.2" r="1.45" fill="#55678c" stroke="#5a8ee0" stroke-width="1.2" stroke-opacity="0.5"/>
<circle cx="87.3" cy="616.2" r="1.45" fill="#55678c" stroke="#5a8ee0" stroke-width="1.2" stroke-opacity="0.5"/>
<circle cx="87.9" cy="616.2" r="1.45" fill="#55678c" stroke="#5a8ee0" stroke-width="1.2" stroke-opacity="0.5"/>
<circle cx="86.6" cy="616.2" r="1.45" fill="#55678c" stroke="#5a8ee0" stroke-width="1.2" stroke-opacity="0.5"/>
<circle cx="87.6" cy="616.2" r="1.45" fill="#55678c" stroke="#5a8ee0" stroke-width="1.2" stroke-opacity="0.5"/>
<circle cx="85.2" cy="616.3" r="1.45" fill="#55678c" stroke="#5a8ee0" stroke-width="1.2" stroke-opacity="0.5"/>
<circle cx="87.6" cy="616.2" r="1.45" fill="#55678c" stroke="#5a8ee0" stroke-width="1.2" stroke-opacity="0.5"/>
<circle cx="85.8" cy="617.2" r="1.45" fill="#55678c" stroke="#5a8ee0" stroke-width="1.2" stroke-opacity="0.5"/>
<circle cx="87.8" cy="616.9" r="1.45" fill="#55678c" stroke="#5a8ee0" stroke-width="1.2" stroke-opacity="0.5"/>
<circle cx="84.2" cy="616.2" r="1.45" fill="#55678c" stroke="#5a8ee0" stroke-width="1.2" stroke-opacity="0.5"/>
<circle cx="87.7" cy="616.5" r="1.45" fill="#55678c" stroke="#5a8ee0" stroke-width="1.2" stroke-opacity="0.5"/>
<circle cx="84.9" cy="622.6" r="1.45" fill="#55678c" stroke="#5a8ee0" stroke-width="1.2" stroke-opacity="0.5"/>
<circle cx="117.1" cy="649.9" r="1.45" fill="#55678c" stroke="#5a8ee0" stroke-width="1.2" stroke-opacity="0.5"/>
<circle cx="114.9" cy="667.9" r="1.45" fill="#55678c" stroke="#5a8ee0" stroke-width="1.2" stroke-opacity="0.5"/>
<circle cx="114.6" cy="676.9" r="1.45" fill="#55678c" stroke="#5a8ee0" stroke-width="1.2" stroke-opacity="0.5"/>
<circle cx="116.5" cy="671.0" r="1.45" fill="#55678c" stroke="#5a8ee0" stroke-width="1.2" stroke-opacity="0.5"/>
<circle cx="111.6" cy="700.5" r="1.45" fill="#55678c" stroke="#5a8ee0" stroke-width="1.2" stroke-opacity="0.5"/>
<circle cx="114.2" cy="703.8" r="1.45" fill="#55678c" stroke="#5a8ee0" stroke-width="1.2" stroke-opacity="0.5"/>
<circle cx="117.3" cy="706.2" r="1.45" fill="#55678c" stroke="#5a8ee0" stroke-width="1.2" stroke-opacity="0.5"/>
<circle cx="144.1" cy="702.8" r="1.45" fill="#55678c" stroke="#5a8ee0" stroke-width="1.2" stroke-opacity="0.5"/>
<circle cx="141.5" cy="722.3" r="1.45" fill="#55678c" stroke="#5a8ee0" stroke-width="1.2" stroke-opacity="0.5"/>
<circle cx="142.4" cy="726.9" r="1.45" fill="#55678c" stroke="#5a8ee0" stroke-width="1.2" stroke-opacity="0.5"/>
<circle cx="144.6" cy="727.8" r="1.45" fill="#55678c" stroke="#5a8ee0" stroke-width="1.2" stroke-opacity="0.5"/>
<circle cx="145.8" cy="734.3" r="1.45" fill="#55678c" stroke="#5a8ee0" stroke-width="1.2" stroke-opacity="0.5"/>
<circle cx="144.1" cy="739.3" r="1.45" fill="#55678c" stroke="#5a8ee0" stroke-width="1.2" stroke-opacity="0.5"/>
<circle cx="143.2" cy="768.2" r="1.45" fill="#55678c" stroke="#5a8ee0" stroke-width="1.2" stroke-opacity="0.5"/>
<circle cx="140.7" cy="797.0" r="1.45" fill="#55678c" stroke="#5a8ee0" stroke-width="1.2" stroke-opacity="0.5"/>
<circle cx="169.9" cy="718.7" r="1.45" fill="#55678c" stroke="#5a8ee0" stroke-width="1.2" stroke-opacity="0.5"/>
<circle cx="172.5" cy="724.3" r="1.45" fill="#55678c" stroke="#5a8ee0" stroke-width="1.2" stroke-opacity="0.5"/>
<circle cx="173.0" cy="743.8" r="1.45" fill="#55678c" stroke="#5a8ee0" stroke-width="1.2" stroke-opacity="0.5"/>
<circle cx="171.6" cy="750.2" r="1.45" fill="#55678c" stroke="#5a8ee0" stroke-width="1.2" stroke-opacity="0.5"/>
<circle cx="169.9" cy="758.4" r="1.45" fill="#55678c" stroke="#5a8ee0" stroke-width="1.2" stroke-opacity="0.5"/>
<circle cx="172.5" cy="762.2" r="1.45" fill="#55678c" stroke="#5a8ee0" stroke-width="1.2" stroke-opacity="0.5"/>
<circle cx="171.3" cy="750.7" r="1.45" fill="#55678c" stroke="#5a8ee0" stroke-width="1.2" stroke-opacity="0.5"/>
<circle cx="198.5" cy="626.3" r="1.45" fill="#55678c" stroke="#5a8ee0" stroke-width="1.2" stroke-opacity="0.5"/>
<circle cx="201.5" cy="645.4" r="1.45" fill="#55678c" stroke="#5a8ee0" stroke-width="1.2" stroke-opacity="0.5"/>
<circle cx="199.0" cy="632.0" r="1.45" fill="#55678c" stroke="#5a8ee0" stroke-width="1.2" stroke-opacity="0.5"/>
<circle cx="200.5" cy="634.5" r="1.45" fill="#55678c" stroke="#5a8ee0" stroke-width="1.2" stroke-opacity="0.5"/>
<circle cx="198.0" cy="636.5" r="1.45" fill="#55678c" stroke="#5a8ee0" stroke-width="1.2" stroke-opacity="0.5"/>
<circle cx="201.0" cy="637.5" r="1.45" fill="#55678c" stroke="#5a8ee0" stroke-width="1.2" stroke-opacity="0.5"/>
<circle cx="199.5" cy="639.0" r="1.45" fill="#55678c" stroke="#5a8ee0" stroke-width="1.2" stroke-opacity="0.5"/>
<circle cx="197.5" cy="640.0" r="1.45" fill="#55678c" stroke="#5a8ee0" stroke-width="1.2" stroke-opacity="0.5"/></g>
<text x="211.9" y="679.3" font-family="Liberation Serif" font-weight="bold" font-size="9.05" text-anchor="end">Mean=0.905</text>
<line x1="58.2" y1="877.4" x2="58.2" y2="878.9" stroke="#444" stroke-width="0.9"/>
<text transform="translate(65.35,888.45) rotate(-45)" font-family="Liberation Serif" font-weight="bold" font-size="8.6" text-anchor="end">ATAC</text>
<line x1="86.4" y1="877.4" x2="86.4" y2="878.9" stroke="#444" stroke-width="0.9"/>
<text transform="translate(91.65,886.05) rotate(-45)" font-family="Liberation Serif" font-weight="bold" font-size="8.6" text-anchor="end">CTCF</text>
<line x1="114.6" y1="877.4" x2="114.6" y2="878.9" stroke="#444" stroke-width="0.9"/>
<text transform="translate(117.95,884.90) rotate(-45)" font-family="Liberation Serif" font-weight="bold" font-size="8.6" text-anchor="end">H3k27ac</text>
<line x1="142.8" y1="877.4" x2="142.8" y2="878.9" stroke="#444" stroke-width="0.9"/>
<text transform="translate(145.15,883.55) rotate(-45)" font-family="Liberation Serif" font-weight="bold" font-size="8.6" text-anchor="end">H3k27me3</text>
<line x1="171.0" y1="877.4" x2="171.0" y2="878.9" stroke="#444" stroke-width="0.9"/>
<text transform="translate(176.00,883.25) rotate(-45)" font-family="Liberation Serif" font-weight="bold" font-size="8.6" text-anchor="end">H3k4me1</text>
<line x1="199.2" y1="877.4" x2="199.2" y2="878.9" stroke="#444" stroke-width="0.9"/>
<text transform="translate(202.85,883.10) rotate(-45)" font-family="Liberation Serif" font-weight="bold" font-size="8.6" text-anchor="end">H3k4me3</text>
<text x="121.3" y="928.6" font-family="Liberation Serif" font-weight="bold" font-size="14.3" text-anchor="middle">Modification</text>
<text transform="translate(9.6,478.5) rotate(-90)" font-family="Liberation Serif" font-weight="bold" font-size="12.6" text-anchor="middle">AUROC</text>
<text x="260.5" y="15.2" font-family="Liberation Serif" font-weight="bold" font-size="23">B</text>
<text x="289.60" y="117.1" font-family="Liberation Serif" font-weight="bold" font-size="10.8" letter-spacing="0" text-anchor="end">ATAC</text>
<text x="610.4" y="28.9" font-family="Liberation Serif" font-weight="bold" font-size="11.9">Adipose</text>
<text x="610.4" y="54.0" font-family="Liberation Serif" font-weight="bold" font-size="11.9">Muscle</text>
<text x="610.4" y="79.0" font-family="Liberation Serif" font-weight="bold" font-size="11.9">Cerebellum</text>
<text x="610.4" y="104.0" font-family="Liberation Serif" font-weight="bold" font-size="11.9">Cortex</text>
<text x="610.4" y="129.1" font-family="Liberation Serif" font-weight="bold" font-size="11.9">Hypothalamus</text>
<text x="610.4" y="154.2" font-family="Liberation Serif" font-weight="bold" font-size="11.9">Liver</text>
<text x="610.4" y="179.2" font-family="Liberation Serif" font-weight="bold" font-size="11.9">Lung</text>
<text x="610.4" y="204.2" font-family="Liberation Serif" font-weight="bold" font-size="11.9">Spleen</text>
<text x="290.37" y="296.0" font-family="Liberation Serif" font-weight="bold" font-size="10.8" letter-spacing="0.77" text-anchor="end">CTCF</text>
<text x="610.4" y="232.9" font-family="Liberation Serif" font-weight="bold" font-size="11.9">Adipose</text>
<text x="610.4" y="257.9" font-family="Liberation Serif" font-weight="bold" font-size="11.9">Cerebellum</text>
<text x="610.4" y="283.0" font-family="Liberation Serif" font-weight="bold" font-size="11.9">Cortex</text>
<text x="610.4" y="301.8" font-family="Liberation Serif" font-weight="bold" font-size="11.9">Liver</text>
<text x="610.4" y="320.6" font-family="Liberation Serif" font-weight="bold" font-size="11.9">Lung</text>
<text x="610.4" y="339.4" font-family="Liberation Serif" font-weight="bold" font-size="11.9">Muscle</text>
<text x="610.4" y="358.1" font-family="Liberation Serif" font-weight="bold" font-size="11.9">Spleen</text>
<text x="289.74" y="474.5" font-family="Liberation Serif" font-weight="bold" font-size="10.8" letter-spacing="0.14" text-anchor="end">H3K27me3</text>
<text x="610.4" y="386.4" font-family="Liberation Serif" font-weight="bold" font-size="11.9">Adipose</text>
<text x="610.4" y="411.4" font-family="Liberation Serif" font-weight="bold" font-size="11.9">Muscle</text>
<text x="610.4" y="436.5" font-family="Liberation Serif" font-weight="bold" font-size="11.9">Cerebellum</text>
<text x="610.4" y="461.5" font-family="Liberation Serif" font-weight="bold" font-size="11.9">Cortex</text>
<text x="610.4" y="486.6" font-family="Liberation Serif" font-weight="bold" font-size="11.9">Hypothalamus</text>
<text x="610.4" y="511.6" font-family="Liberation Serif" font-weight="bold" font-size="11.9">Liver</text>
<text x="610.4" y="536.7" font-family="Liberation Serif" font-weight="bold" font-size="11.9">Lung</text>
<text x="610.4" y="561.7" font-family="Liberation Serif" font-weight="bold" font-size="11.9">Spleen</text>
<text x="289.68" y="659.8" font-family="Liberation Serif" font-weight="bold" font-size="10.8" letter-spacing="0.08" text-anchor="end">H3K4me1</text>
<text x="610.4" y="590.4" font-family="Liberation Serif" font-weight="bold" font-size="11.9">Adipose</text>
<text x="610.4" y="609.2" font-family="Liberation Serif" font-weight="bold" font-size="11.9">Muscle</text>
<text x="610.4" y="628.0" font-family="Liberation Serif" font-weight="bold" font-size="11.9">Cerebellum</text>
<text x="610.4" y="646.7" font-family="Liberation Serif" font-weight="bold" font-size="11.9">Cortex</text>
<text x="610.4" y="665.5" font-family="Liberation Serif" font-weight="bold" font-size="11.9">Hypothalamus</text>
<text x="610.4" y="690.6" font-family="Liberation Serif" font-weight="bold" font-size="11.9">Liver</text>
<text x="610.4" y="715.6" font-family="Liberation Serif" font-weight="bold" font-size="11.9">Lung</text>
<text x="610.4" y="734.4" font-family="Liberation Serif" font-weight="bold" font-size="11.9">Spleen</text>
<text x="289.80" y="788.7" font-family="Liberation Serif" font-weight="bold" font-size="10.8" letter-spacing="0.2" text-anchor="end">H3K27ac</text>
<text x="610.4" y="750.7" font-family="Liberation Serif" font-weight="bold" font-size="11.9">Cerebellum</text>
<text x="610.4" y="763.2" font-family="Liberation Serif" font-weight="bold" font-size="11.9">Cortex</text>
<text x="610.4" y="775.7" font-family="Liberation Serif" font-weight="bold" font-size="11.9">Hypothalamus</text>
<text x="610.4" y="788.2" font-family="Liberation Serif" font-weight="bold" font-size="11.9">Liver</text>
<text x="610.4" y="807.0" font-family="Liberation Serif" font-weight="bold" font-size="11.9">Muscle</text>
<text x="610.4" y="825.8" font-family="Liberation Serif" font-weight="bold" font-size="11.9">Spleen</text>
<text x="289.60" y="848.4" font-family="Liberation Serif" font-weight="bold" font-size="10.8" letter-spacing="0" text-anchor="end">H3K4me3</text>
<text x="610.4" y="847.9" font-family="Liberation Serif" font-weight="bold" font-size="11.9">Adipose</text>
<rect x="292.1" y="12.97" width="6.2" height="200.40" fill="#8b5446"/>
<rect x="302.45" y="12.97" width="11.09" height="12.53" fill="#fddccf"/>
<rect x="302.45" y="25.50" width="11.09" height="12.53" fill="#fddccf"/>
<rect x="302.45" y="38.02" width="11.09" height="12.53" fill="#fee8df"/>
<rect x="324.63" y="38.02" width="11.09" height="12.53" fill="#f98568"/>
<rect x="335.72" y="38.02" width="11.09" height="12.53" fill="#fddccf"/>
<rect x="346.81" y="38.02" width="11.09" height="12.53" fill="#fddccf"/>
<rect x="357.89" y="38.02" width="11.09" height="12.53" fill="#fff1eb"/>
<rect x="446.61" y="38.02" width="11.09" height="12.53" fill="#fddccf"/>
<rect x="468.78" y="38.02" width="11.09" height="12.53" fill="#fddccf"/>
<rect x="479.87" y="38.02" width="11.09" height="12.53" fill="#fddccf"/>
<rect x="490.96" y="38.02" width="11.09" height="12.53" fill="#fcb19a"/>
<rect x="535.32" y="38.02" width="11.09" height="12.53" fill="#f46a50"/>
<rect x="546.41" y="38.02" width="11.09" height="12.53" fill="#f7765b"/>
<rect x="324.63" y="50.55" width="11.09" height="12.53" fill="#f98568"/>
<rect x="335.72" y="50.55" width="11.09" height="12.53" fill="#fddccf"/>
<rect x="346.81" y="50.55" width="11.09" height="12.53" fill="#fdd0c0"/>
<rect x="357.89" y="50.55" width="11.09" height="12.53" fill="#fff8f4"/>
<rect x="468.78" y="50.55" width="11.09" height="12.53" fill="#fddccf"/>
<rect x="479.87" y="50.55" width="11.09" height="12.53" fill="#fddccf"/>
<rect x="490.96" y="50.55" width="11.09" height="12.53" fill="#fcb19a"/>
<rect x="535.32" y="50.55" width="11.09" height="12.53" fill="#f7765b"/>
<rect x="546.41" y="50.55" width="11.09" height="12.53" fill="#f7765b"/>
<rect x="313.54" y="63.08" width="11.09" height="12.53" fill="#fddccf"/>
<rect x="324.63" y="63.08" width="11.09" height="12.53" fill="#fcb19a"/>
<rect x="335.72" y="63.08" width="11.09" height="12.53" fill="#fddccf"/>
<rect x="346.81" y="63.08" width="11.09" height="12.53" fill="#fddccf"/>
<rect x="357.89" y="63.08" width="11.09" height="12.53" fill="#fee8df"/>
<rect x="402.25" y="63.08" width="11.09" height="12.53" fill="#fddccf"/>
<rect x="446.61" y="63.08" width="11.09" height="12.53" fill="#fdd0c0"/>
<rect x="457.69" y="63.08" width="11.09" height="12.53" fill="#fdd0c0"/>
<rect x="479.87" y="63.08" width="11.09" height="12.53" fill="#fdd0c0"/>
<rect x="313.54" y="75.60" width="11.09" height="12.53" fill="#fddccf"/>
<rect x="335.72" y="75.60" width="11.09" height="12.53" fill="#fddccf"/>
<rect x="346.81" y="75.60" width="11.09" height="12.53" fill="#fddccf"/>
<rect x="357.89" y="75.60" width="11.09" height="12.53" fill="#fff1eb"/>
<rect x="402.25" y="75.60" width="11.09" height="12.53" fill="#fddccf"/>
<rect x="446.61" y="75.60" width="11.09" height="12.53" fill="#fdd0c0"/>
<rect x="457.69" y="75.60" width="11.09" height="12.53" fill="#fddccf"/>
<rect x="479.87" y="75.60" width="11.09" height="12.53" fill="#fddccf"/>
<rect x="313.54" y="88.12" width="11.09" height="12.53" fill="#fff1eb"/>
<rect x="324.63" y="88.12" width="11.09" height="12.53" fill="#f7765b"/>
<rect x="535.32" y="88.12" width="11.09" height="12.53" fill="#fcb19a"/>
<rect x="313.54" y="100.65" width="11.09" height="12.53" fill="#fff1eb"/>
<rect x="324.63" y="100.65" width="11.09" height="12.53" fill="#e23b2b"/>
<rect x="335.72" y="100.65" width="11.09" height="12.53" fill="#fddccf"/>
<rect x="346.81" y="100.65" width="11.09" height="12.53" fill="#fddccf"/>
<rect x="535.32" y="100.65" width="11.09" height="12.53" fill="#fb9479"/>
<rect x="313.54" y="113.17" width="11.09" height="12.53" fill="#fff8f4"/>
<rect x="313.54" y="125.70" width="11.09" height="12.53" fill="#fee8df"/>
<rect x="324.63" y="125.70" width="11.09" height="12.53" fill="#fcb19a"/>
<rect x="446.61" y="125.70" width="11.09" height="12.53" fill="#fddccf"/>
<rect x="302.45" y="138.22" width="11.09" height="12.53" fill="#fddccf"/>
<rect x="568.58" y="138.22" width="11.09" height="12.53" fill="#fca58b"/>
<rect x="302.45" y="150.75" width="11.09" height="12.53" fill="#fddccf"/>
<rect x="313.54" y="163.28" width="11.09" height="12.53" fill="#fff8f4"/>
<rect x="346.81" y="163.28" width="11.09" height="12.53" fill="#fddccf"/>
<rect x="313.54" y="175.80" width="11.09" height="12.53" fill="#fff8f4"/>
<rect x="346.81" y="175.80" width="11.09" height="12.53" fill="#fddccf"/>
<rect x="302.45" y="188.32" width="11.09" height="12.53" fill="#fddccf"/>
<rect x="346.81" y="188.32" width="11.09" height="12.53" fill="#fddccf"/>
<rect x="368.98" y="188.32" width="11.09" height="12.53" fill="#fddccf"/>
<rect x="346.81" y="200.85" width="11.09" height="12.53" fill="#fddccf"/>
<rect x="368.98" y="200.85" width="11.09" height="12.53" fill="#fddccf"/>
<line x1="301.95" y1="12.97" x2="602.35" y2="12.97" stroke="#454a52" stroke-width="1"/>
<line x1="301.95" y1="25.50" x2="602.35" y2="25.50" stroke="#454a52" stroke-width="1"/>
<line x1="301.95" y1="38.02" x2="602.35" y2="38.02" stroke="#454a52" stroke-width="1"/>
<line x1="301.95" y1="50.55" x2="602.35" y2="50.55" stroke="#454a52" stroke-width="1"/>
<line x1="301.95" y1="63.08" x2="602.35" y2="63.08" stroke="#454a52" stroke-width="1"/>
<line x1="301.95" y1="75.60" x2="602.35" y2="75.60" stroke="#454a52" stroke-width="1"/>
<line x1="301.95" y1="88.12" x2="602.35" y2="88.12" stroke="#454a52" stroke-width="1"/>
<line x1="301.95" y1="100.65" x2="602.35" y2="100.65" stroke="#454a52" stroke-width="1"/>
<line x1="301.95" y1="113.17" x2="602.35" y2="113.17" stroke="#454a52" stroke-width="1"/>
<line x1="301.95" y1="125.70" x2="602.35" y2="125.70" stroke="#454a52" stroke-width="1"/>
<line x1="301.95" y1="138.22" x2="602.35" y2="138.22" stroke="#454a52" stroke-width="1"/>
<line x1="301.95" y1="150.75" x2="602.35" y2="150.75" stroke="#454a52" stroke-width="1"/>
<line x1="301.95" y1="163.28" x2="602.35" y2="163.28" stroke="#454a52" stroke-width="1"/>
<line x1="301.95" y1="175.80" x2="602.35" y2="175.80" stroke="#454a52" stroke-width="1"/>
<line x1="301.95" y1="188.32" x2="602.35" y2="188.32" stroke="#454a52" stroke-width="1"/>
<line x1="301.95" y1="200.85" x2="602.35" y2="200.85" stroke="#454a52" stroke-width="1"/>
<line x1="301.95" y1="213.38" x2="602.35" y2="213.38" stroke="#454a52" stroke-width="1"/>
<line x1="302.45" y1="12.97" x2="302.45" y2="213.38" stroke="#454a52" stroke-width="1"/>
<line x1="313.54" y1="12.97" x2="313.54" y2="213.38" stroke="#454a52" stroke-width="1"/>
<line x1="324.63" y1="12.97" x2="324.63" y2="213.38" stroke="#454a52" stroke-width="1"/>
<line x1="335.72" y1="12.97" x2="335.72" y2="213.38" stroke="#454a52" stroke-width="1"/>
<line x1="346.81" y1="12.97" x2="346.81" y2="213.38" stroke="#454a52" stroke-width="1"/>
<line x1="357.89" y1="12.97" x2="357.89" y2="213.38" stroke="#454a52" stroke-width="1"/>
<line x1="368.98" y1="12.97" x2="368.98" y2="213.38" stroke="#454a52" stroke-width="1"/>
<line x1="380.07" y1="12.97" x2="380.07" y2="213.38" stroke="#454a52" stroke-width="1"/>
<line x1="391.16" y1="12.97" x2="391.16" y2="213.38" stroke="#454a52" stroke-width="1"/>
<line x1="402.25" y1="12.97" x2="402.25" y2="213.38" stroke="#454a52" stroke-width="1"/>
<line x1="413.34" y1="12.97" x2="413.34" y2="213.38" stroke="#454a52" stroke-width="1"/>
<line x1="424.43" y1="12.97" x2="424.43" y2="213.38" stroke="#454a52" stroke-width="1"/>
<line x1="435.52" y1="12.97" x2="435.52" y2="213.38" stroke="#454a52" stroke-width="1"/>
<line x1="446.61" y1="12.97" x2="446.61" y2="213.38" stroke="#454a52" stroke-width="1"/>
<line x1="457.69" y1="12.97" x2="457.69" y2="213.38" stroke="#454a52" stroke-width="1"/>
<line x1="468.78" y1="12.97" x2="468.78" y2="213.38" stroke="#454a52" stroke-width="1"/>
<line x1="479.87" y1="12.97" x2="479.87" y2="213.38" stroke="#454a52" stroke-width="1"/>
<line x1="490.96" y1="12.97" x2="490.96" y2="213.38" stroke="#454a52" stroke-width="1"/>
<line x1="502.05" y1="12.97" x2="502.05" y2="213.38" stroke="#454a52" stroke-width="1"/>
<line x1="513.14" y1="12.97" x2="513.14" y2="213.38" stroke="#454a52" stroke-width="1"/>
<line x1="524.23" y1="12.97" x2="524.23" y2="213.38" stroke="#454a52" stroke-width="1"/>
<line x1="535.32" y1="12.97" x2="535.32" y2="213.38" stroke="#454a52" stroke-width="1"/>
<line x1="546.41" y1="12.97" x2="546.41" y2="213.38" stroke="#454a52" stroke-width="1"/>
<line x1="557.49" y1="12.97" x2="557.49" y2="213.38" stroke="#454a52" stroke-width="1"/>
<line x1="568.58" y1="12.97" x2="568.58" y2="213.38" stroke="#454a52" stroke-width="1"/>
<line x1="579.67" y1="12.97" x2="579.67" y2="213.38" stroke="#454a52" stroke-width="1"/>
<line x1="590.76" y1="12.97" x2="590.76" y2="213.38" stroke="#454a52" stroke-width="1"/>
<line x1="601.85" y1="12.97" x2="601.85" y2="213.38" stroke="#454a52" stroke-width="1"/>
<path d="M603.1,19.20H604.9V24.70L606.6,25.50L604.9,26.30V31.60H603.1" fill="none" stroke="#222" stroke-width="0.95"/>
<path d="M603.1,44.25H604.9V49.75L606.6,50.55L604.9,51.35V56.65H603.1" fill="none" stroke="#222" stroke-width="0.95"/>
<path d="M603.1,69.30H604.9V74.80L606.6,75.60L604.9,76.40V81.70H603.1" fill="none" stroke="#222" stroke-width="0.95"/>
<path d="M603.1,94.35H604.9V99.85L606.6,100.65L604.9,101.45V106.75H603.1" fill="none" stroke="#222" stroke-width="0.95"/>
<path d="M603.1,119.40H604.9V124.90L606.6,125.70L604.9,126.50V131.80H603.1" fill="none" stroke="#222" stroke-width="0.95"/>
<path d="M603.1,144.45H604.9V149.95L606.6,150.75L604.9,151.55V156.85H603.1" fill="none" stroke="#222" stroke-width="0.95"/>
<path d="M603.1,169.50H604.9V175.00L606.6,175.80L604.9,176.60V181.90H603.1" fill="none" stroke="#222" stroke-width="0.95"/>
<path d="M603.1,194.55H604.9V200.05L606.6,200.85L604.9,201.65V206.95H603.1" fill="none" stroke="#222" stroke-width="0.95"/>
<rect x="292.1" y="216.97" width="6.2" height="150.30" fill="#7f7f7f"/>
<rect x="368.98" y="329.69" width="11.09" height="12.53" fill="#fff8f4"/>
<rect x="368.98" y="342.22" width="11.09" height="12.53" fill="#fff8f4"/>
<rect x="368.98" y="354.75" width="11.09" height="12.53" fill="#fff8f4"/>
<line x1="301.95" y1="216.97" x2="602.35" y2="216.97" stroke="#454a52" stroke-width="1"/>
<line x1="301.95" y1="229.50" x2="602.35" y2="229.50" stroke="#454a52" stroke-width="1"/>
<line x1="301.95" y1="242.02" x2="602.35" y2="242.02" stroke="#454a52" stroke-width="1"/>
<line x1="301.95" y1="254.55" x2="602.35" y2="254.55" stroke="#454a52" stroke-width="1"/>
<line x1="301.95" y1="267.07" x2="602.35" y2="267.07" stroke="#454a52" stroke-width="1"/>
<line x1="301.95" y1="279.60" x2="602.35" y2="279.60" stroke="#454a52" stroke-width="1"/>
<line x1="301.95" y1="292.12" x2="602.35" y2="292.12" stroke="#454a52" stroke-width="1"/>
<line x1="301.95" y1="304.64" x2="602.35" y2="304.64" stroke="#454a52" stroke-width="1"/>
<line x1="301.95" y1="317.17" x2="602.35" y2="317.17" stroke="#454a52" stroke-width="1"/>
<line x1="301.95" y1="329.69" x2="602.35" y2="329.69" stroke="#454a52" stroke-width="1"/>
<line x1="301.95" y1="342.22" x2="602.35" y2="342.22" stroke="#454a52" stroke-width="1"/>
<line x1="301.95" y1="354.75" x2="602.35" y2="354.75" stroke="#454a52" stroke-width="1"/>
<line x1="301.95" y1="367.27" x2="602.35" y2="367.27" stroke="#454a52" stroke-width="1"/>
<line x1="302.45" y1="216.97" x2="302.45" y2="367.27" stroke="#454a52" stroke-width="1"/>
<line x1="313.54" y1="216.97" x2="313.54" y2="367.27" stroke="#454a52" stroke-width="1"/>
<line x1="324.63" y1="216.97" x2="324.63" y2="367.27" stroke="#454a52" stroke-width="1"/>
<line x1="335.72" y1="216.97" x2="335.72" y2="367.27" stroke="#454a52" stroke-width="1"/>
<line x1="346.81" y1="216.97" x2="346.81" y2="367.27" stroke="#454a52" stroke-width="1"/>
<line x1="357.89" y1="216.97" x2="357.89" y2="367.27" stroke="#454a52" stroke-width="1"/>
<line x1="368.98" y1="216.97" x2="368.98" y2="367.27" stroke="#454a52" stroke-width="1"/>
<line x1="380.07" y1="216.97" x2="380.07" y2="367.27" stroke="#454a52" stroke-width="1"/>
<line x1="391.16" y1="216.97" x2="391.16" y2="367.27" stroke="#454a52" stroke-width="1"/>
<line x1="402.25" y1="216.97" x2="402.25" y2="367.27" stroke="#454a52" stroke-width="1"/>
<line x1="413.34" y1="216.97" x2="413.34" y2="367.27" stroke="#454a52" stroke-width="1"/>
<line x1="424.43" y1="216.97" x2="424.43" y2="367.27" stroke="#454a52" stroke-width="1"/>
<line x1="435.52" y1="216.97" x2="435.52" y2="367.27" stroke="#454a52" stroke-width="1"/>
<line x1="446.61" y1="216.97" x2="446.61" y2="367.27" stroke="#454a52" stroke-width="1"/>
<line x1="457.69" y1="216.97" x2="457.69" y2="367.27" stroke="#454a52" stroke-width="1"/>
<line x1="468.78" y1="216.97" x2="468.78" y2="367.27" stroke="#454a52" stroke-width="1"/>
<line x1="479.87" y1="216.97" x2="479.87" y2="367.27" stroke="#454a52" stroke-width="1"/>
<line x1="490.96" y1="216.97" x2="490.96" y2="367.27" stroke="#454a52" stroke-width="1"/>
<line x1="502.05" y1="216.97" x2="502.05" y2="367.27" stroke="#454a52" stroke-width="1"/>
<line x1="513.14" y1="216.97" x2="513.14" y2="367.27" stroke="#454a52" stroke-width="1"/>
<line x1="524.23" y1="216.97" x2="524.23" y2="367.27" stroke="#454a52" stroke-width="1"/>
<line x1="535.32" y1="216.97" x2="535.32" y2="367.27" stroke="#454a52" stroke-width="1"/>
<line x1="546.41" y1="216.97" x2="546.41" y2="367.27" stroke="#454a52" stroke-width="1"/>
<line x1="557.49" y1="216.97" x2="557.49" y2="367.27" stroke="#454a52" stroke-width="1"/>
<line x1="568.58" y1="216.97" x2="568.58" y2="367.27" stroke="#454a52" stroke-width="1"/>
<line x1="579.67" y1="216.97" x2="579.67" y2="367.27" stroke="#454a52" stroke-width="1"/>
<line x1="590.76" y1="216.97" x2="590.76" y2="367.27" stroke="#454a52" stroke-width="1"/>
<line x1="601.85" y1="216.97" x2="601.85" y2="367.27" stroke="#454a52" stroke-width="1"/>
<path d="M603.1,223.19H604.9V228.69L606.6,229.50L604.9,230.30V235.59H603.1" fill="none" stroke="#222" stroke-width="0.95"/>
<path d="M603.1,248.25H604.9V253.75L606.6,254.55L604.9,255.35V260.65H603.1" fill="none" stroke="#222" stroke-width="0.95"/>
<path d="M603.1,273.30H604.9V278.80L606.6,279.60L604.9,280.40V285.70H603.1" fill="none" stroke="#222" stroke-width="0.95"/>
<line x1="603.7" y1="298.38" x2="606.8" y2="298.38" stroke="#222" stroke-width="1.1"/>
<path d="M603.1,310.87H604.9V316.37L606.6,317.17L604.9,317.97V323.27H603.1" fill="none" stroke="#222" stroke-width="0.95"/>
<line x1="603.7" y1="335.96" x2="606.8" y2="335.96" stroke="#222" stroke-width="1.1"/>
<path d="M603.1,348.44H604.9V353.94L606.6,354.75L604.9,355.55V360.85H603.1" fill="none" stroke="#222" stroke-width="0.95"/>
<rect x="292.1" y="370.45" width="6.2" height="200.40" fill="#c4c4c4"/>
<rect x="313.54" y="370.45" width="11.09" height="12.53" fill="#fff1eb"/>
<rect x="380.07" y="370.45" width="11.09" height="12.53" fill="#fddccf"/>
<rect x="391.16" y="370.45" width="11.09" height="12.53" fill="#fddccf"/>
<rect x="402.25" y="370.45" width="11.09" height="12.53" fill="#fddccf"/>
<rect x="413.34" y="370.45" width="11.09" height="12.53" fill="#fddccf"/>
<rect x="424.43" y="370.45" width="11.09" height="12.53" fill="#fddccf"/>
<rect x="380.07" y="382.97" width="11.09" height="12.53" fill="#fddccf"/>
<rect x="391.16" y="382.97" width="11.09" height="12.53" fill="#fddccf"/>
<rect x="402.25" y="382.97" width="11.09" height="12.53" fill="#fddccf"/>
<rect x="413.34" y="382.97" width="11.09" height="12.53" fill="#fddccf"/>
<rect x="435.52" y="382.97" width="11.09" height="12.53" fill="#fddccf"/>
<rect x="446.61" y="382.97" width="11.09" height="12.53" fill="#fee8df"/>
<rect x="457.69" y="382.97" width="11.09" height="12.53" fill="#fff1eb"/>
<rect x="380.07" y="395.50" width="11.09" height="12.53" fill="#fddccf"/>
<rect x="391.16" y="395.50" width="11.09" height="12.53" fill="#fddccf"/>
<rect x="402.25" y="395.50" width="11.09" height="12.53" fill="#fddccf"/>
<rect x="413.34" y="395.50" width="11.09" height="12.53" fill="#fddccf"/>
<rect x="380.07" y="408.02" width="11.09" height="12.53" fill="#fddccf"/>
<rect x="391.16" y="408.02" width="11.09" height="12.53" fill="#fddccf"/>
<rect x="402.25" y="408.02" width="11.09" height="12.53" fill="#fddccf"/>
<rect x="413.34" y="408.02" width="11.09" height="12.53" fill="#fddccf"/>
<rect x="424.43" y="408.02" width="11.09" height="12.53" fill="#fddccf"/>
<rect x="435.52" y="408.02" width="11.09" height="12.53" fill="#fddccf"/>
<rect x="457.69" y="408.02" width="11.09" height="12.53" fill="#fff1eb"/>
<rect x="380.07" y="420.55" width="11.09" height="12.53" fill="#fddccf"/>
<rect x="391.16" y="420.55" width="11.09" height="12.53" fill="#fddccf"/>
<rect x="402.25" y="420.55" width="11.09" height="12.53" fill="#fddccf"/>
<rect x="413.34" y="420.55" width="11.09" height="12.53" fill="#fddccf"/>
<rect x="424.43" y="420.55" width="11.09" height="12.53" fill="#fddccf"/>
<rect x="435.52" y="420.55" width="11.09" height="12.53" fill="#fddccf"/>
<rect x="446.61" y="420.55" width="11.09" height="12.53" fill="#fff1eb"/>
<rect x="457.69" y="420.55" width="11.09" height="12.53" fill="#fee8df"/>
<rect x="468.78" y="420.55" width="11.09" height="12.53" fill="#fddccf"/>
<rect x="479.87" y="420.55" width="11.09" height="12.53" fill="#fddccf"/>
<rect x="313.54" y="433.07" width="11.09" height="12.53" fill="#fddccf"/>
<rect x="335.72" y="433.07" width="11.09" height="12.53" fill="#fddccf"/>
<rect x="380.07" y="433.07" width="11.09" height="12.53" fill="#fddccf"/>
<rect x="391.16" y="433.07" width="11.09" height="12.53" fill="#fddccf"/>
<rect x="402.25" y="433.07" width="11.09" height="12.53" fill="#fddccf"/>
<rect x="413.34" y="433.07" width="11.09" height="12.53" fill="#fddccf"/>
<rect x="424.43" y="433.07" width="11.09" height="12.53" fill="#fddccf"/>
<rect x="435.52" y="433.07" width="11.09" height="12.53" fill="#fddccf"/>
<rect x="457.69" y="433.07" width="11.09" height="12.53" fill="#fddccf"/>
<rect x="479.87" y="433.07" width="11.09" height="12.53" fill="#fddccf"/>
<rect x="346.81" y="445.60" width="11.09" height="12.53" fill="#fddccf"/>
<rect x="380.07" y="445.60" width="11.09" height="12.53" fill="#fddccf"/>
<rect x="391.16" y="445.60" width="11.09" height="12.53" fill="#fddccf"/>
<rect x="402.25" y="445.60" width="11.09" height="12.53" fill="#fddccf"/>
<rect x="413.34" y="445.60" width="11.09" height="12.53" fill="#fddccf"/>
<rect x="424.43" y="445.60" width="11.09" height="12.53" fill="#fddccf"/>
<rect x="435.52" y="445.60" width="11.09" height="12.53" fill="#fddccf"/>
<rect x="446.61" y="445.60" width="11.09" height="12.53" fill="#fddccf"/>
<rect x="457.69" y="445.60" width="11.09" height="12.53" fill="#fddccf"/>
<rect x="468.78" y="445.60" width="11.09" height="12.53" fill="#fddccf"/>
<rect x="479.87" y="445.60" width="11.09" height="12.53" fill="#fddccf"/>
<rect x="313.54" y="458.12" width="11.09" height="12.53" fill="#fee8df"/>
<rect x="346.81" y="458.12" width="11.09" height="12.53" fill="#fddccf"/>
<rect x="380.07" y="458.12" width="11.09" height="12.53" fill="#fddccf"/>
<rect x="391.16" y="458.12" width="11.09" height="12.53" fill="#fddccf"/>
<rect x="402.25" y="458.12" width="11.09" height="12.53" fill="#fddccf"/>
<rect x="413.34" y="458.12" width="11.09" height="12.53" fill="#fddccf"/>
<rect x="424.43" y="458.12" width="11.09" height="12.53" fill="#fddccf"/>
<rect x="435.52" y="458.12" width="11.09" height="12.53" fill="#fddccf"/>
<rect x="446.61" y="458.12" width="11.09" height="12.53" fill="#fddccf"/>
<rect x="457.69" y="458.12" width="11.09" height="12.53" fill="#fddccf"/>
<rect x="468.78" y="458.12" width="11.09" height="12.53" fill="#fdd0c0"/>
<rect x="479.87" y="458.12" width="11.09" height="12.53" fill="#fddccf"/>
<rect x="313.54" y="470.65" width="11.09" height="12.53" fill="#fff1eb"/>
<rect x="380.07" y="470.65" width="11.09" height="12.53" fill="#fddccf"/>
<rect x="391.16" y="470.65" width="11.09" height="12.53" fill="#fddccf"/>
<rect x="402.25" y="470.65" width="11.09" height="12.53" fill="#fddccf"/>
<rect x="413.34" y="470.65" width="11.09" height="12.53" fill="#fddccf"/>
<rect x="424.43" y="470.65" width="11.09" height="12.53" fill="#fddccf"/>
<rect x="446.61" y="470.65" width="11.09" height="12.53" fill="#fff1eb"/>
<rect x="457.69" y="470.65" width="11.09" height="12.53" fill="#fee8df"/>
<rect x="468.78" y="470.65" width="11.09" height="12.53" fill="#fddccf"/>
<rect x="380.07" y="483.18" width="11.09" height="12.53" fill="#fddccf"/>
<rect x="391.16" y="483.18" width="11.09" height="12.53" fill="#fddccf"/>
<rect x="402.25" y="483.18" width="11.09" height="12.53" fill="#fddccf"/>
<rect x="413.34" y="483.18" width="11.09" height="12.53" fill="#fddccf"/>
<rect x="424.43" y="483.18" width="11.09" height="12.53" fill="#fddccf"/>
<rect x="435.52" y="483.18" width="11.09" height="12.53" fill="#fddccf"/>
<rect x="457.69" y="483.18" width="11.09" height="12.53" fill="#fff1eb"/>
<rect x="468.78" y="483.18" width="11.09" height="12.53" fill="#fddccf"/>
<rect x="479.87" y="483.18" width="11.09" height="12.53" fill="#fddccf"/>
<rect x="490.96" y="483.18" width="11.09" height="12.53" fill="#fddccf"/>
<rect x="313.54" y="495.70" width="11.09" height="12.53" fill="#fee8df"/>
<rect x="380.07" y="495.70" width="11.09" height="12.53" fill="#fddccf"/>
<rect x="391.16" y="495.70" width="11.09" height="12.53" fill="#fddccf"/>
<rect x="402.25" y="495.70" width="11.09" height="12.53" fill="#fee8df"/>
<rect x="413.34" y="495.70" width="11.09" height="12.53" fill="#fddccf"/>
<rect x="380.07" y="508.23" width="11.09" height="12.53" fill="#fddccf"/>
<rect x="391.16" y="508.23" width="11.09" height="12.53" fill="#fddccf"/>
<rect x="413.34" y="508.23" width="11.09" height="12.53" fill="#fddccf"/>
<rect x="446.61" y="508.23" width="11.09" height="12.53" fill="#fee8df"/>
<rect x="346.81" y="520.75" width="11.09" height="12.53" fill="#fddccf"/>
<rect x="380.07" y="520.75" width="11.09" height="12.53" fill="#fddccf"/>
<rect x="391.16" y="520.75" width="11.09" height="12.53" fill="#fddccf"/>
<rect x="402.25" y="520.75" width="11.09" height="12.53" fill="#fddccf"/>
<rect x="413.34" y="520.75" width="11.09" height="12.53" fill="#fddccf"/>
<rect x="435.52" y="520.75" width="11.09" height="12.53" fill="#fddccf"/>
<rect x="446.61" y="520.75" width="11.09" height="12.53" fill="#fddccf"/>
<rect x="457.69" y="520.75" width="11.09" height="12.53" fill="#fddccf"/>
<rect x="468.78" y="520.75" width="11.09" height="12.53" fill="#fddccf"/>
<rect x="380.07" y="533.27" width="11.09" height="12.53" fill="#fddccf"/>
<rect x="391.16" y="533.27" width="11.09" height="12.53" fill="#fddccf"/>
<rect x="402.25" y="533.27" width="11.09" height="12.53" fill="#fddccf"/>
<rect x="413.34" y="533.27" width="11.09" height="12.53" fill="#fddccf"/>
<rect x="435.52" y="533.27" width="11.09" height="12.53" fill="#fddccf"/>
<rect x="446.61" y="533.27" width="11.09" height="12.53" fill="#fddccf"/>
<rect x="457.69" y="533.27" width="11.09" height="12.53" fill="#fee8df"/>
<rect x="346.81" y="545.80" width="11.09" height="12.53" fill="#fddccf"/>
<rect x="380.07" y="545.80" width="11.09" height="12.53" fill="#fddccf"/>
<rect x="391.16" y="545.80" width="11.09" height="12.53" fill="#fddccf"/>
<rect x="402.25" y="545.80" width="11.09" height="12.53" fill="#fddccf"/>
<rect x="413.34" y="545.80" width="11.09" height="12.53" fill="#fddccf"/>
<rect x="424.43" y="545.80" width="11.09" height="12.53" fill="#fddccf"/>
<rect x="435.52" y="545.80" width="11.09" height="12.53" fill="#fddccf"/>
<rect x="446.61" y="545.80" width="11.09" height="12.53" fill="#fddccf"/>
<rect x="457.69" y="545.80" width="11.09" height="12.53" fill="#fee8df"/>
<rect x="468.78" y="545.80" width="11.09" height="12.53" fill="#fddccf"/>
<rect x="446.61" y="558.33" width="11.09" height="12.53" fill="#fff1eb"/>
<line x1="301.95" y1="370.45" x2="602.35" y2="370.45" stroke="#454a52" stroke-width="1"/>
<line x1="301.95" y1="382.97" x2="602.35" y2="382.97" stroke="#454a52" stroke-width="1"/>
<line x1="301.95" y1="395.50" x2="602.35" y2="395.50" stroke="#454a52" stroke-width="1"/>
<line x1="301.95" y1="408.02" x2="602.35" y2="408.02" stroke="#454a52" stroke-width="1"/>
<line x1="301.95" y1="420.55" x2="602.35" y2="420.55" stroke="#454a52" stroke-width="1"/>
<line x1="301.95" y1="433.07" x2="602.35" y2="433.07" stroke="#454a52" stroke-width="1"/>
<line x1="301.95" y1="445.60" x2="602.35" y2="445.60" stroke="#454a52" stroke-width="1"/>
<line x1="301.95" y1="458.12" x2="602.35" y2="458.12" stroke="#454a52" stroke-width="1"/>
<line x1="301.95" y1="470.65" x2="602.35" y2="470.65" stroke="#454a52" stroke-width="1"/>
<line x1="301.95" y1="483.18" x2="602.35" y2="483.18" stroke="#454a52" stroke-width="1"/>
<line x1="301.95" y1="495.70" x2="602.35" y2="495.70" stroke="#454a52" stroke-width="1"/>
<line x1="301.95" y1="508.23" x2="602.35" y2="508.23" stroke="#454a52" stroke-width="1"/>
<line x1="301.95" y1="520.75" x2="602.35" y2="520.75" stroke="#454a52" stroke-width="1"/>
<line x1="301.95" y1="533.27" x2="602.35" y2="533.27" stroke="#454a52" stroke-width="1"/>
<line x1="301.95" y1="545.80" x2="602.35" y2="545.80" stroke="#454a52" stroke-width="1"/>
<line x1="301.95" y1="558.33" x2="602.35" y2="558.33" stroke="#454a52" stroke-width="1"/>
<line x1="301.95" y1="570.85" x2="602.35" y2="570.85" stroke="#454a52" stroke-width="1"/>
<line x1="302.45" y1="370.45" x2="302.45" y2="570.85" stroke="#454a52" stroke-width="1"/>
<line x1="313.54" y1="370.45" x2="313.54" y2="570.85" stroke="#454a52" stroke-width="1"/>
<line x1="324.63" y1="370.45" x2="324.63" y2="570.85" stroke="#454a52" stroke-width="1"/>
<line x1="335.72" y1="370.45" x2="335.72" y2="570.85" stroke="#454a52" stroke-width="1"/>
<line x1="346.81" y1="370.45" x2="346.81" y2="570.85" stroke="#454a52" stroke-width="1"/>
<line x1="357.89" y1="370.45" x2="357.89" y2="570.85" stroke="#454a52" stroke-width="1"/>
<line x1="368.98" y1="370.45" x2="368.98" y2="570.85" stroke="#454a52" stroke-width="1"/>
<line x1="380.07" y1="370.45" x2="380.07" y2="570.85" stroke="#454a52" stroke-width="1"/>
<line x1="391.16" y1="370.45" x2="391.16" y2="570.85" stroke="#454a52" stroke-width="1"/>
<line x1="402.25" y1="370.45" x2="402.25" y2="570.85" stroke="#454a52" stroke-width="1"/>
<line x1="413.34" y1="370.45" x2="413.34" y2="570.85" stroke="#454a52" stroke-width="1"/>
<line x1="424.43" y1="370.45" x2="424.43" y2="570.85" stroke="#454a52" stroke-width="1"/>
<line x1="435.52" y1="370.45" x2="435.52" y2="570.85" stroke="#454a52" stroke-width="1"/>
<line x1="446.61" y1="370.45" x2="446.61" y2="570.85" stroke="#454a52" stroke-width="1"/>
<line x1="457.69" y1="370.45" x2="457.69" y2="570.85" stroke="#454a52" stroke-width="1"/>
<line x1="468.78" y1="370.45" x2="468.78" y2="570.85" stroke="#454a52" stroke-width="1"/>
<line x1="479.87" y1="370.45" x2="479.87" y2="570.85" stroke="#454a52" stroke-width="1"/>
<line x1="490.96" y1="370.45" x2="490.96" y2="570.85" stroke="#454a52" stroke-width="1"/>
<line x1="502.05" y1="370.45" x2="502.05" y2="570.85" stroke="#454a52" stroke-width="1"/>
<line x1="513.14" y1="370.45" x2="513.14" y2="570.85" stroke="#454a52" stroke-width="1"/>
<line x1="524.23" y1="370.45" x2="524.23" y2="570.85" stroke="#454a52" stroke-width="1"/>
<line x1="535.32" y1="370.45" x2="535.32" y2="570.85" stroke="#454a52" stroke-width="1"/>
<line x1="546.41" y1="370.45" x2="546.41" y2="570.85" stroke="#454a52" stroke-width="1"/>
<line x1="557.49" y1="370.45" x2="557.49" y2="570.85" stroke="#454a52" stroke-width="1"/>
<line x1="568.58" y1="370.45" x2="568.58" y2="570.85" stroke="#454a52" stroke-width="1"/>
<line x1="579.67" y1="370.45" x2="579.67" y2="570.85" stroke="#454a52" stroke-width="1"/>
<line x1="590.76" y1="370.45" x2="590.76" y2="570.85" stroke="#454a52" stroke-width="1"/>
<line x1="601.85" y1="370.45" x2="601.85" y2="570.85" stroke="#454a52" stroke-width="1"/>
<path d="M603.1,376.67H604.9V382.17L606.6,382.97L604.9,383.77V389.07H603.1" fill="none" stroke="#222" stroke-width="0.95"/>
<path d="M603.1,401.72H604.9V407.22L606.6,408.02L604.9,408.82V414.12H603.1" fill="none" stroke="#222" stroke-width="0.95"/>
<path d="M603.1,426.77H604.9V432.27L606.6,433.07L604.9,433.88V439.18H603.1" fill="none" stroke="#222" stroke-width="0.95"/>
<path d="M603.1,451.82H604.9V457.32L606.6,458.12L604.9,458.93V464.23H603.1" fill="none" stroke="#222" stroke-width="0.95"/>
<path d="M603.1,476.88H604.9V482.38L606.6,483.18L604.9,483.98V489.28H603.1" fill="none" stroke="#222" stroke-width="0.95"/>
<path d="M603.1,501.93H604.9V507.43L606.6,508.23L604.9,509.03V514.33H603.1" fill="none" stroke="#222" stroke-width="0.95"/>
<path d="M603.1,526.98H604.9V532.48L606.6,533.27L604.9,534.07V539.38H603.1" fill="none" stroke="#222" stroke-width="0.95"/>
<path d="M603.1,552.03H604.9V557.53L606.6,558.33L604.9,559.12V564.43H603.1" fill="none" stroke="#222" stroke-width="0.95"/>
<rect x="292.1" y="574.45" width="6.2" height="162.83" fill="#ef6b6e"/>
<rect x="502.05" y="574.45" width="11.09" height="12.53" fill="#fcc3ae"/>
<rect x="513.14" y="574.45" width="11.09" height="12.53" fill="#fcb19a"/>
<rect x="502.05" y="586.98" width="11.09" height="12.53" fill="#fcb19a"/>
<rect x="513.14" y="586.98" width="11.09" height="12.53" fill="#fca58b"/>
<rect x="535.32" y="586.98" width="11.09" height="12.53" fill="#fb9479"/>
<rect x="590.76" y="586.98" width="11.09" height="12.53" fill="#fddccf"/>
<rect x="435.52" y="599.50" width="11.09" height="12.53" fill="#fddccf"/>
<rect x="502.05" y="599.50" width="11.09" height="12.53" fill="#fcc3ae"/>
<rect x="524.23" y="599.50" width="11.09" height="12.53" fill="#fdd0c0"/>
<rect x="535.32" y="599.50" width="11.09" height="12.53" fill="#fb9479"/>
<rect x="546.41" y="599.50" width="11.09" height="12.53" fill="#fcb19a"/>
<rect x="502.05" y="612.03" width="11.09" height="12.53" fill="#fdd0c0"/>
<rect x="524.23" y="612.03" width="11.09" height="12.53" fill="#fdd0c0"/>
<rect x="346.81" y="624.55" width="11.09" height="12.53" fill="#fddccf"/>
<rect x="524.23" y="624.55" width="11.09" height="12.53" fill="#fdd0c0"/>
<rect x="557.49" y="624.55" width="11.09" height="12.53" fill="#fddccf"/>
<rect x="324.63" y="637.08" width="11.09" height="12.53" fill="#fb9479"/>
<rect x="435.52" y="637.08" width="11.09" height="12.53" fill="#fddccf"/>
<rect x="502.05" y="637.08" width="11.09" height="12.53" fill="#fcc3ae"/>
<rect x="513.14" y="637.08" width="11.09" height="12.53" fill="#fcc3ae"/>
<rect x="524.23" y="637.08" width="11.09" height="12.53" fill="#fcc3ae"/>
<rect x="557.49" y="637.08" width="11.09" height="12.53" fill="#fddccf"/>
<rect x="590.76" y="637.08" width="11.09" height="12.53" fill="#fdd0c0"/>
<rect x="324.63" y="649.60" width="11.09" height="12.53" fill="#fca58b"/>
<rect x="502.05" y="649.60" width="11.09" height="12.53" fill="#fcb19a"/>
<rect x="524.23" y="649.60" width="11.09" height="12.53" fill="#fdd0c0"/>
<rect x="590.76" y="649.60" width="11.09" height="12.53" fill="#fdd0c0"/>
<rect x="502.05" y="662.12" width="11.09" height="12.53" fill="#fdd0c0"/>
<rect x="435.52" y="674.65" width="11.09" height="12.53" fill="#fcc3ae"/>
<rect x="502.05" y="674.65" width="11.09" height="12.53" fill="#fcc3ae"/>
<rect x="568.58" y="674.65" width="11.09" height="12.53" fill="#fca58b"/>
<rect x="368.98" y="687.18" width="11.09" height="12.53" fill="#fff1eb"/>
<rect x="502.05" y="687.18" width="11.09" height="12.53" fill="#fcc3ae"/>
<rect x="568.58" y="687.18" width="11.09" height="12.53" fill="#fca58b"/>
<rect x="502.05" y="699.70" width="11.09" height="12.53" fill="#fdd0c0"/>
<rect x="302.45" y="712.23" width="11.09" height="12.53" fill="#fddccf"/>
<rect x="435.52" y="712.23" width="11.09" height="12.53" fill="#fdd0c0"/>
<rect x="502.05" y="712.23" width="11.09" height="12.53" fill="#fcb19a"/>
<rect x="579.67" y="712.23" width="11.09" height="12.53" fill="#fcc3ae"/>
<rect x="368.98" y="724.75" width="11.09" height="12.53" fill="#fff1eb"/>
<rect x="435.52" y="724.75" width="11.09" height="12.53" fill="#fdd0c0"/>
<line x1="301.95" y1="574.45" x2="602.35" y2="574.45" stroke="#454a52" stroke-width="1"/>
<line x1="301.95" y1="586.98" x2="602.35" y2="586.98" stroke="#454a52" stroke-width="1"/>
<line x1="301.95" y1="599.50" x2="602.35" y2="599.50" stroke="#454a52" stroke-width="1"/>
<line x1="301.95" y1="612.03" x2="602.35" y2="612.03" stroke="#454a52" stroke-width="1"/>
<line x1="301.95" y1="624.55" x2="602.35" y2="624.55" stroke="#454a52" stroke-width="1"/>
<line x1="301.95" y1="637.08" x2="602.35" y2="637.08" stroke="#454a52" stroke-width="1"/>
<line x1="301.95" y1="649.60" x2="602.35" y2="649.60" stroke="#454a52" stroke-width="1"/>
<line x1="301.95" y1="662.12" x2="602.35" y2="662.12" stroke="#454a52" stroke-width="1"/>
<line x1="301.95" y1="674.65" x2="602.35" y2="674.65" stroke="#454a52" stroke-width="1"/>
<line x1="301.95" y1="687.18" x2="602.35" y2="687.18" stroke="#454a52" stroke-width="1"/>
<line x1="301.95" y1="699.70" x2="602.35" y2="699.70" stroke="#454a52" stroke-width="1"/>
<line x1="301.95" y1="712.23" x2="602.35" y2="712.23" stroke="#454a52" stroke-width="1"/>
<line x1="301.95" y1="724.75" x2="602.35" y2="724.75" stroke="#454a52" stroke-width="1"/>
<line x1="301.95" y1="737.28" x2="602.35" y2="737.28" stroke="#454a52" stroke-width="1"/>
<line x1="302.45" y1="574.45" x2="302.45" y2="737.28" stroke="#454a52" stroke-width="1"/>
<line x1="313.54" y1="574.45" x2="313.54" y2="737.28" stroke="#454a52" stroke-width="1"/>
<line x1="324.63" y1="574.45" x2="324.63" y2="737.28" stroke="#454a52" stroke-width="1"/>
<line x1="335.72" y1="574.45" x2="335.72" y2="737.28" stroke="#454a52" stroke-width="1"/>
<line x1="346.81" y1="574.45" x2="346.81" y2="737.28" stroke="#454a52" stroke-width="1"/>
<line x1="357.89" y1="574.45" x2="357.89" y2="737.28" stroke="#454a52" stroke-width="1"/>
<line x1="368.98" y1="574.45" x2="368.98" y2="737.28" stroke="#454a52" stroke-width="1"/>
<line x1="380.07" y1="574.45" x2="380.07" y2="737.28" stroke="#454a52" stroke-width="1"/>
<line x1="391.16" y1="574.45" x2="391.16" y2="737.28" stroke="#454a52" stroke-width="1"/>
<line x1="402.25" y1="574.45" x2="402.25" y2="737.28" stroke="#454a52" stroke-width="1"/>
<line x1="413.34" y1="574.45" x2="413.34" y2="737.28" stroke="#454a52" stroke-width="1"/>
<line x1="424.43" y1="574.45" x2="424.43" y2="737.28" stroke="#454a52" stroke-width="1"/>
<line x1="435.52" y1="574.45" x2="435.52" y2="737.28" stroke="#454a52" stroke-width="1"/>
<line x1="446.61" y1="574.45" x2="446.61" y2="737.28" stroke="#454a52" stroke-width="1"/>
<line x1="457.69" y1="574.45" x2="457.69" y2="737.28" stroke="#454a52" stroke-width="1"/>
<line x1="468.78" y1="574.45" x2="468.78" y2="737.28" stroke="#454a52" stroke-width="1"/>
<line x1="479.87" y1="574.45" x2="479.87" y2="737.28" stroke="#454a52" stroke-width="1"/>
<line x1="490.96" y1="574.45" x2="490.96" y2="737.28" stroke="#454a52" stroke-width="1"/>
<line x1="502.05" y1="574.45" x2="502.05" y2="737.28" stroke="#454a52" stroke-width="1"/>
<line x1="513.14" y1="574.45" x2="513.14" y2="737.28" stroke="#454a52" stroke-width="1"/>
<line x1="524.23" y1="574.45" x2="524.23" y2="737.28" stroke="#454a52" stroke-width="1"/>
<line x1="535.32" y1="574.45" x2="535.32" y2="737.28" stroke="#454a52" stroke-width="1"/>
<line x1="546.41" y1="574.45" x2="546.41" y2="737.28" stroke="#454a52" stroke-width="1"/>
<line x1="557.49" y1="574.45" x2="557.49" y2="737.28" stroke="#454a52" stroke-width="1"/>
<line x1="568.58" y1="574.45" x2="568.58" y2="737.28" stroke="#454a52" stroke-width="1"/>
<line x1="579.67" y1="574.45" x2="579.67" y2="737.28" stroke="#454a52" stroke-width="1"/>
<line x1="590.76" y1="574.45" x2="590.76" y2="737.28" stroke="#454a52" stroke-width="1"/>
<line x1="601.85" y1="574.45" x2="601.85" y2="737.28" stroke="#454a52" stroke-width="1"/>
<path d="M603.1,580.68H604.9V586.18L606.6,586.98L604.9,587.77V593.08H603.1" fill="none" stroke="#222" stroke-width="0.95"/>
<line x1="603.7" y1="605.76" x2="606.8" y2="605.76" stroke="#222" stroke-width="1.1"/>
<path d="M603.1,618.25H604.9V623.75L606.6,624.55L604.9,625.35V630.65H603.1" fill="none" stroke="#222" stroke-width="0.95"/>
<line x1="603.7" y1="643.34" x2="606.8" y2="643.34" stroke="#222" stroke-width="1.1"/>
<path d="M603.1,655.83H604.9V661.33L606.6,662.12L604.9,662.92V668.23H603.1" fill="none" stroke="#222" stroke-width="0.95"/>
<path d="M603.1,680.88H604.9V686.38L606.6,687.18L604.9,687.98V693.28H603.1" fill="none" stroke="#222" stroke-width="0.95"/>
<path d="M603.1,705.93H604.9V711.43L606.6,712.23L604.9,713.02V718.33H603.1" fill="none" stroke="#222" stroke-width="0.95"/>
<line x1="603.7" y1="731.01" x2="606.8" y2="731.01" stroke="#222" stroke-width="1.1"/>
<rect x="292.1" y="741.00" width="6.2" height="87.67" fill="#fb8c8c"/>
<rect x="524.23" y="741.00" width="11.09" height="12.53" fill="#fdd0c0"/>
<rect x="324.63" y="753.52" width="11.09" height="12.53" fill="#fca58b"/>
<rect x="435.52" y="766.05" width="11.09" height="12.53" fill="#fdd0c0"/>
<rect x="590.76" y="766.05" width="11.09" height="12.53" fill="#fdd0c0"/>
<rect x="568.58" y="778.58" width="11.09" height="12.53" fill="#fca58b"/>
<rect x="468.78" y="791.10" width="11.09" height="12.53" fill="#fdd0c0"/>
<rect x="546.41" y="791.10" width="11.09" height="12.53" fill="#fcc3ae"/>
<rect x="546.41" y="803.62" width="11.09" height="12.53" fill="#fcc3ae"/>
<rect x="368.98" y="816.15" width="11.09" height="12.53" fill="#fddccf"/>
<rect x="435.52" y="816.15" width="11.09" height="12.53" fill="#fcc3ae"/>
<rect x="502.05" y="816.15" width="11.09" height="12.53" fill="#fcb19a"/>
<rect x="524.23" y="816.15" width="11.09" height="12.53" fill="#fdd0c0"/>
<line x1="301.95" y1="741.00" x2="602.35" y2="741.00" stroke="#454a52" stroke-width="1"/>
<line x1="301.95" y1="753.52" x2="602.35" y2="753.52" stroke="#454a52" stroke-width="1"/>
<line x1="301.95" y1="766.05" x2="602.35" y2="766.05" stroke="#454a52" stroke-width="1"/>
<line x1="301.95" y1="778.58" x2="602.35" y2="778.58" stroke="#454a52" stroke-width="1"/>
<line x1="301.95" y1="791.10" x2="602.35" y2="791.10" stroke="#454a52" stroke-width="1"/>
<line x1="301.95" y1="803.62" x2="602.35" y2="803.62" stroke="#454a52" stroke-width="1"/>
<line x1="301.95" y1="816.15" x2="602.35" y2="816.15" stroke="#454a52" stroke-width="1"/>
<line x1="301.95" y1="828.67" x2="602.35" y2="828.67" stroke="#454a52" stroke-width="1"/>
<line x1="302.45" y1="741.00" x2="302.45" y2="828.67" stroke="#454a52" stroke-width="1"/>
<line x1="313.54" y1="741.00" x2="313.54" y2="828.67" stroke="#454a52" stroke-width="1"/>
<line x1="324.63" y1="741.00" x2="324.63" y2="828.67" stroke="#454a52" stroke-width="1"/>
<line x1="335.72" y1="741.00" x2="335.72" y2="828.67" stroke="#454a52" stroke-width="1"/>
<line x1="346.81" y1="741.00" x2="346.81" y2="828.67" stroke="#454a52" stroke-width="1"/>
<line x1="357.89" y1="741.00" x2="357.89" y2="828.67" stroke="#454a52" stroke-width="1"/>
<line x1="368.98" y1="741.00" x2="368.98" y2="828.67" stroke="#454a52" stroke-width="1"/>
<line x1="380.07" y1="741.00" x2="380.07" y2="828.67" stroke="#454a52" stroke-width="1"/>
<line x1="391.16" y1="741.00" x2="391.16" y2="828.67" stroke="#454a52" stroke-width="1"/>
<line x1="402.25" y1="741.00" x2="402.25" y2="828.67" stroke="#454a52" stroke-width="1"/>
<line x1="413.34" y1="741.00" x2="413.34" y2="828.67" stroke="#454a52" stroke-width="1"/>
<line x1="424.43" y1="741.00" x2="424.43" y2="828.67" stroke="#454a52" stroke-width="1"/>
<line x1="435.52" y1="741.00" x2="435.52" y2="828.67" stroke="#454a52" stroke-width="1"/>
<line x1="446.61" y1="741.00" x2="446.61" y2="828.67" stroke="#454a52" stroke-width="1"/>
<line x1="457.69" y1="741.00" x2="457.69" y2="828.67" stroke="#454a52" stroke-width="1"/>
<line x1="468.78" y1="741.00" x2="468.78" y2="828.67" stroke="#454a52" stroke-width="1"/>
<line x1="479.87" y1="741.00" x2="479.87" y2="828.67" stroke="#454a52" stroke-width="1"/>
<line x1="490.96" y1="741.00" x2="490.96" y2="828.67" stroke="#454a52" stroke-width="1"/>
<line x1="502.05" y1="741.00" x2="502.05" y2="828.67" stroke="#454a52" stroke-width="1"/>
<line x1="513.14" y1="741.00" x2="513.14" y2="828.67" stroke="#454a52" stroke-width="1"/>
<line x1="524.23" y1="741.00" x2="524.23" y2="828.67" stroke="#454a52" stroke-width="1"/>
<line x1="535.32" y1="741.00" x2="535.32" y2="828.67" stroke="#454a52" stroke-width="1"/>
<line x1="546.41" y1="741.00" x2="546.41" y2="828.67" stroke="#454a52" stroke-width="1"/>
<line x1="557.49" y1="741.00" x2="557.49" y2="828.67" stroke="#454a52" stroke-width="1"/>
<line x1="568.58" y1="741.00" x2="568.58" y2="828.67" stroke="#454a52" stroke-width="1"/>
<line x1="579.67" y1="741.00" x2="579.67" y2="828.67" stroke="#454a52" stroke-width="1"/>
<line x1="590.76" y1="741.00" x2="590.76" y2="828.67" stroke="#454a52" stroke-width="1"/>
<line x1="601.85" y1="741.00" x2="601.85" y2="828.67" stroke="#454a52" stroke-width="1"/>
<line x1="603.7" y1="747.26" x2="606.8" y2="747.26" stroke="#222" stroke-width="1.1"/>
<line x1="603.7" y1="759.79" x2="606.8" y2="759.79" stroke="#222" stroke-width="1.1"/>
<line x1="603.7" y1="772.31" x2="606.8" y2="772.31" stroke="#222" stroke-width="1.1"/>
<line x1="603.7" y1="784.84" x2="606.8" y2="784.84" stroke="#222" stroke-width="1.1"/>
<path d="M603.1,797.33H604.9V802.83L606.6,803.62L604.9,804.42V809.73H603.1" fill="none" stroke="#222" stroke-width="0.95"/>
<line x1="603.7" y1="822.41" x2="606.8" y2="822.41" stroke="#222" stroke-width="1.1"/>
<rect x="292.1" y="832.00" width="6.2" height="25.05" fill="#d873c9"/>
<rect x="590.76" y="832.00" width="11.09" height="12.53" fill="#fddccf"/>
<rect x="590.76" y="844.52" width="11.09" height="12.53" fill="#fddccf"/>
<line x1="301.95" y1="832.00" x2="602.35" y2="832.00" stroke="#454a52" stroke-width="1"/>
<line x1="301.95" y1="844.52" x2="602.35" y2="844.52" stroke="#454a52" stroke-width="1"/>
<line x1="301.95" y1="857.05" x2="602.35" y2="857.05" stroke="#454a52" stroke-width="1"/>
<line x1="302.45" y1="832.00" x2="302.45" y2="857.05" stroke="#454a52" stroke-width="1"/>
<line x1="313.54" y1="832.00" x2="313.54" y2="857.05" stroke="#454a52" stroke-width="1"/>
<line x1="324.63" y1="832.00" x2="324.63" y2="857.05" stroke="#454a52" stroke-width="1"/>
<line x1="335.72" y1="832.00" x2="335.72" y2="857.05" stroke="#454a52" stroke-width="1"/>
<line x1="346.81" y1="832.00" x2="346.81" y2="857.05" stroke="#454a52" stroke-width="1"/>
<line x1="357.89" y1="832.00" x2="357.89" y2="857.05" stroke="#454a52" stroke-width="1"/>
<line x1="368.98" y1="832.00" x2="368.98" y2="857.05" stroke="#454a52" stroke-width="1"/>
<line x1="380.07" y1="832.00" x2="380.07" y2="857.05" stroke="#454a52" stroke-width="1"/>
<line x1="391.16" y1="832.00" x2="391.16" y2="857.05" stroke="#454a52" stroke-width="1"/>
<line x1="402.25" y1="832.00" x2="402.25" y2="857.05" stroke="#454a52" stroke-width="1"/>
<line x1="413.34" y1="832.00" x2="413.34" y2="857.05" stroke="#454a52" stroke-width="1"/>
<line x1="424.43" y1="832.00" x2="424.43" y2="857.05" stroke="#454a52" stroke-width="1"/>
<line x1="435.52" y1="832.00" x2="435.52" y2="857.05" stroke="#454a52" stroke-width="1"/>
<line x1="446.61" y1="832.00" x2="446.61" y2="857.05" stroke="#454a52" stroke-width="1"/>
<line x1="457.69" y1="832.00" x2="457.69" y2="857.05" stroke="#454a52" stroke-width="1"/>
<line x1="468.78" y1="832.00" x2="468.78" y2="857.05" stroke="#454a52" stroke-width="1"/>
<line x1="479.87" y1="832.00" x2="479.87" y2="857.05" stroke="#454a52" stroke-width="1"/>
<line x1="490.96" y1="832.00" x2="490.96" y2="857.05" stroke="#454a52" stroke-width="1"/>
<line x1="502.05" y1="832.00" x2="502.05" y2="857.05" stroke="#454a52" stroke-width="1"/>
<line x1="513.14" y1="832.00" x2="513.14" y2="857.05" stroke="#454a52" stroke-width="1"/>
<line x1="524.23" y1="832.00" x2="524.23" y2="857.05" stroke="#454a52" stroke-width="1"/>
<line x1="535.32" y1="832.00" x2="535.32" y2="857.05" stroke="#454a52" stroke-width="1"/>
<line x1="546.41" y1="832.00" x2="546.41" y2="857.05" stroke="#454a52" stroke-width="1"/>
<line x1="557.49" y1="832.00" x2="557.49" y2="857.05" stroke="#454a52" stroke-width="1"/>
<line x1="568.58" y1="832.00" x2="568.58" y2="857.05" stroke="#454a52" stroke-width="1"/>
<line x1="579.67" y1="832.00" x2="579.67" y2="857.05" stroke="#454a52" stroke-width="1"/>
<line x1="590.76" y1="832.00" x2="590.76" y2="857.05" stroke="#454a52" stroke-width="1"/>
<line x1="601.85" y1="832.00" x2="601.85" y2="857.05" stroke="#454a52" stroke-width="1"/>
<path d="M603.1,838.23H604.9V843.73L606.6,844.52L604.9,845.32V850.62H603.1" fill="none" stroke="#222" stroke-width="0.95"/>
<text transform="translate(311.39,860.6) rotate(-90)" font-family="Liberation Serif" font-weight="bold" font-size="10.0" text-anchor="end" fill="#000">1_161355252</text>
<text transform="translate(322.48,860.6) rotate(-90)" font-family="Liberation Serif" font-weight="bold" font-size="10.0" text-anchor="end" fill="#000">1_161509156</text>
<text transform="translate(333.57,860.6) rotate(-90)" font-family="Liberation Serif" font-weight="bold" font-size="10.0" text-anchor="end" fill="#bb1e1e">1_161505049</text>
<text transform="translate(344.66,860.6) rotate(-90)" font-family="Liberation Serif" font-weight="bold" font-size="10.0" text-anchor="end" fill="#000">1_161505446</text>
<text transform="translate(355.75,860.6) rotate(-90)" font-family="Liberation Serif" font-weight="bold" font-size="10.0" text-anchor="end" fill="#000">1_161507918</text>
<text transform="translate(366.84,860.6) rotate(-90)" font-family="Liberation Serif" font-weight="bold" font-size="10.0" text-anchor="end" fill="#000">1_161505246</text>
<text transform="translate(377.93,860.6) rotate(-90)" font-family="Liberation Serif" font-weight="bold" font-size="10.0" text-anchor="end" fill="#000">1_161037225</text>
<text transform="translate(389.02,860.6) rotate(-90)" font-family="Liberation Serif" font-weight="bold" font-size="10.0" text-anchor="end" fill="#000">1_161488052</text>
<text transform="translate(400.11,860.6) rotate(-90)" font-family="Liberation Serif" font-weight="bold" font-size="10.0" text-anchor="end" fill="#000">1_161507722</text>
<text transform="translate(411.19,860.6) rotate(-90)" font-family="Liberation Serif" font-weight="bold" font-size="10.0" text-anchor="end" fill="#000">1_161508838</text>
<text transform="translate(422.28,860.6) rotate(-90)" font-family="Liberation Serif" font-weight="bold" font-size="10.0" text-anchor="end" fill="#000">1_161517608</text>
<text transform="translate(433.37,860.6) rotate(-90)" font-family="Liberation Serif" font-weight="bold" font-size="10.0" text-anchor="end" fill="#000">1_161509089</text>
<text transform="translate(444.46,860.6) rotate(-90)" font-family="Liberation Serif" font-weight="bold" font-size="10.0" text-anchor="end" fill="#000">1_161463480</text>
<text transform="translate(455.55,860.6) rotate(-90)" font-family="Liberation Serif" font-weight="bold" font-size="10.0" text-anchor="end" fill="#000">1_161505924</text>
<text transform="translate(466.64,860.6) rotate(-90)" font-family="Liberation Serif" font-weight="bold" font-size="10.0" text-anchor="end" fill="#000">1_161514225</text>
<text transform="translate(477.73,860.6) rotate(-90)" font-family="Liberation Serif" font-weight="bold" font-size="10.0" text-anchor="end" fill="#000">1_161504976</text>
<text transform="translate(488.82,860.6) rotate(-90)" font-family="Liberation Serif" font-weight="bold" font-size="10.0" text-anchor="end" fill="#000">1_160883673</text>
<text transform="translate(499.91,860.6) rotate(-90)" font-family="Liberation Serif" font-weight="bold" font-size="10.0" text-anchor="end" fill="#000">1_161504977</text>
<text transform="translate(510.99,860.6) rotate(-90)" font-family="Liberation Serif" font-weight="bold" font-size="10.0" text-anchor="end" fill="#bb1e1e">1_161123588</text>
<text transform="translate(522.08,860.6) rotate(-90)" font-family="Liberation Serif" font-weight="bold" font-size="10.0" text-anchor="end" fill="#000">1_161510148</text>
<text transform="translate(533.17,860.6) rotate(-90)" font-family="Liberation Serif" font-weight="bold" font-size="10.0" text-anchor="end" fill="#000">1_161505305</text>
<text transform="translate(544.26,860.6) rotate(-90)" font-family="Liberation Serif" font-weight="bold" font-size="10.0" text-anchor="end" fill="#bb1e1e">1_161459540</text>
<text transform="translate(555.35,860.6) rotate(-90)" font-family="Liberation Serif" font-weight="bold" font-size="10.0" text-anchor="end" fill="#bb1e1e">1_161505045</text>
<text transform="translate(566.44,860.6) rotate(-90)" font-family="Liberation Serif" font-weight="bold" font-size="10.0" text-anchor="end" fill="#000">1_161505928</text>
<text transform="translate(577.53,860.6) rotate(-90)" font-family="Liberation Serif" font-weight="bold" font-size="10.0" text-anchor="end" fill="#bb1e1e">1_161507714</text>
<text transform="translate(588.62,860.6) rotate(-90)" font-family="Liberation Serif" font-weight="bold" font-size="10.0" text-anchor="end" fill="#000">1_161510209</text>
<text transform="translate(599.71,860.6) rotate(-90)" font-family="Liberation Serif" font-weight="bold" font-size="10.0" text-anchor="end" fill="#000">1_161510192</text>
<text transform="translate(299.0,859.0) rotate(-90)" font-family="Liberation Serif" font-weight="bold" font-size="12.8" text-anchor="end">modification</text>
<defs><linearGradient id="g" x1="0" y1="1" x2="0" y2="0"><stop offset="0" stop-color="#fee3d8"/><stop offset="0.5" stop-color="#f88a6e"/><stop offset="1" stop-color="#e0311f"/></linearGradient></defs>
<rect x="616.3" y="872.1" width="11.6" height="52.3" fill="url(#g)"/>
<line x1="616.3" y1="883.6" x2="618.6" y2="883.6" stroke="#fff" stroke-width="0.9"/>
<line x1="616.3" y1="896.5" x2="618.6" y2="896.5" stroke="#fff" stroke-width="0.9"/>
<line x1="616.3" y1="909.4" x2="618.6" y2="909.4" stroke="#fff" stroke-width="0.9"/>
<line x1="616.3" y1="922.3" x2="618.6" y2="922.3" stroke="#fff" stroke-width="0.9"/>
<line x1="625.6" y1="874.4" x2="627.9" y2="874.4" stroke="#fff" stroke-width="0.9"/>
<line x1="625.6" y1="887.3" x2="627.9" y2="887.3" stroke="#fff" stroke-width="0.9"/>
<line x1="625.6" y1="899.8" x2="627.9" y2="899.8" stroke="#fff" stroke-width="0.9"/>
<line x1="625.6" y1="912.4" x2="627.9" y2="912.4" stroke="#fff" stroke-width="0.9"/>
<text x="629.9" y="877.0" font-family="Liberation Serif" font-weight="bold" font-size="10.8">0.08</text>
<text x="629.9" y="889.8" font-family="Liberation Serif" font-weight="bold" font-size="10.8">0.06</text>
<text x="629.9" y="902.6" font-family="Liberation Serif" font-weight="bold" font-size="10.8">0.04</text>
<text x="629.9" y="915.4" font-family="Liberation Serif" font-weight="bold" font-size="10.8">0.02</text>
<text x="629.9" y="928.2" font-family="Liberation Serif" font-weight="bold" font-size="10.8">0</text>
<text x="616.6" y="867.2" font-family="Liberation Serif" font-weight="bold" font-size="11.2">SAD</text>
</svg>
</body></html>
